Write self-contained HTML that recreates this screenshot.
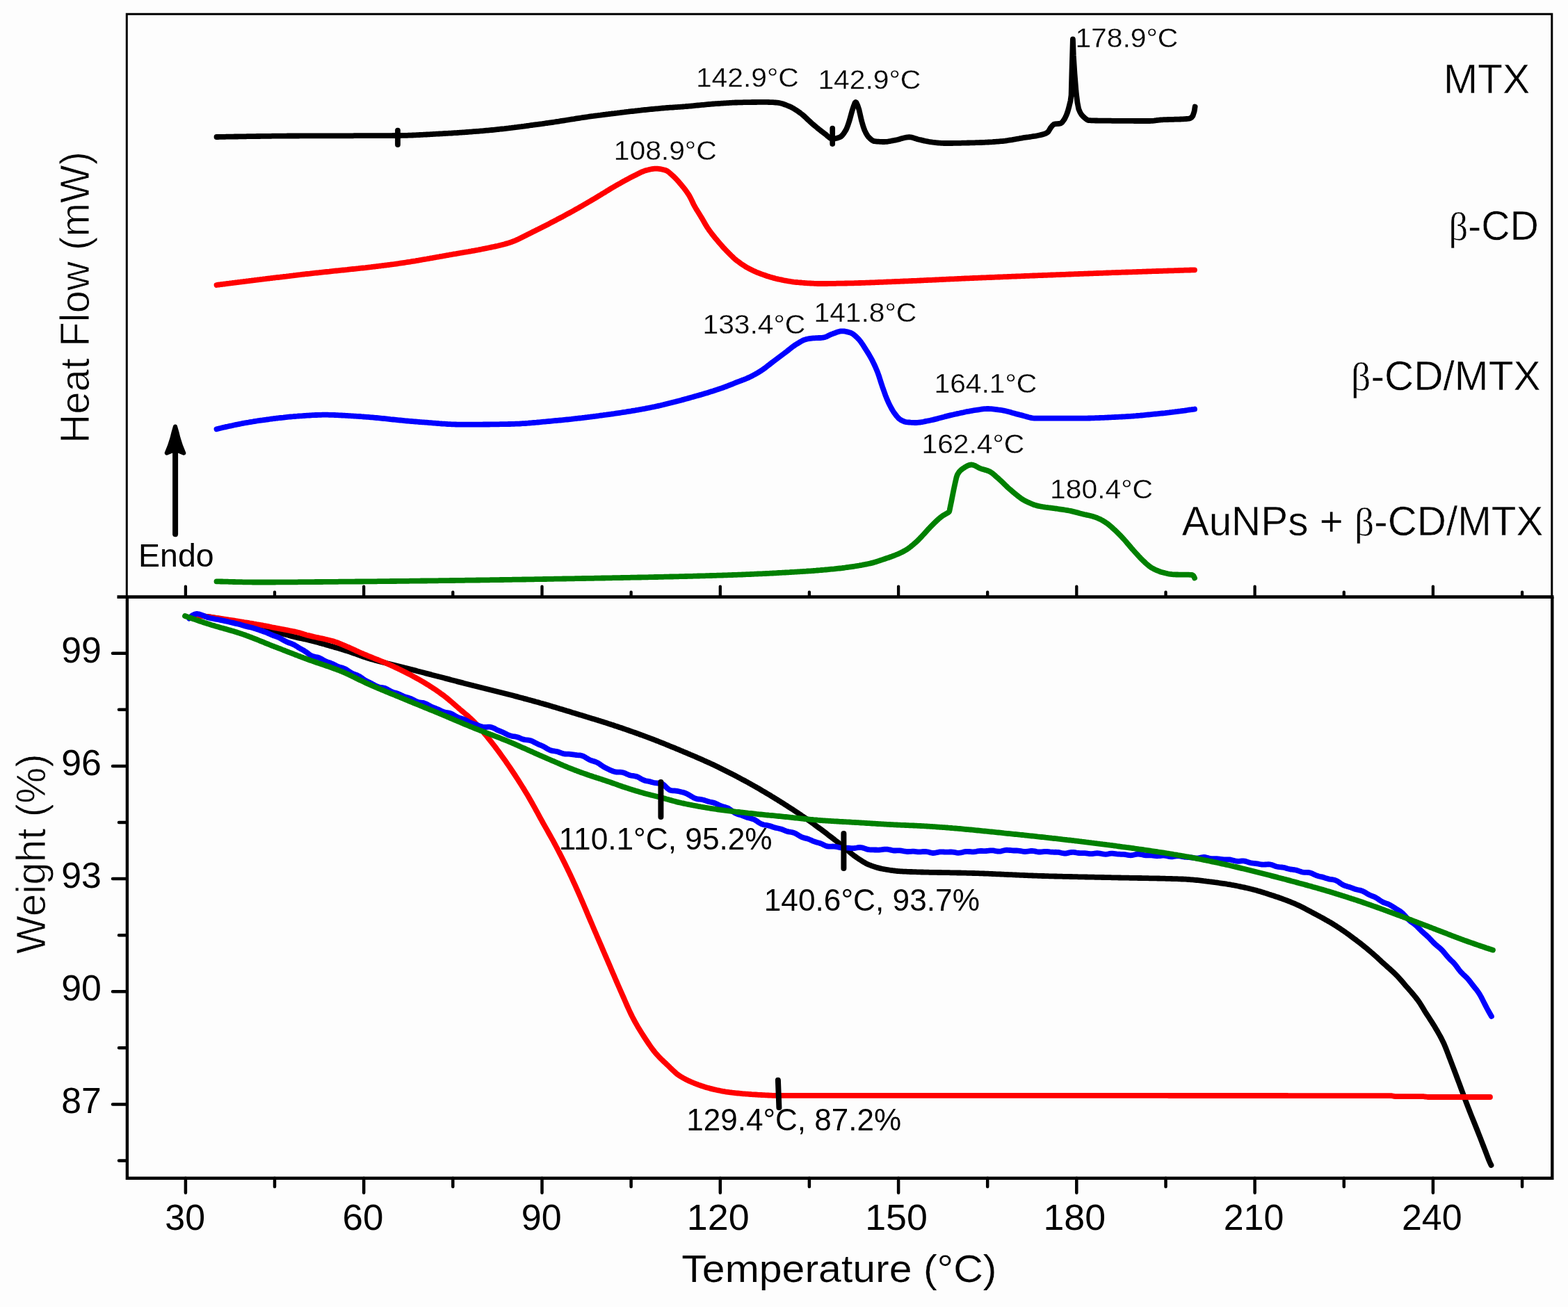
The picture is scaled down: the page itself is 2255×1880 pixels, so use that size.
<!DOCTYPE html>
<html lang="en">
<head>
<meta charset="utf-8">
<title>DSC and TGA thermograms</title>
<style>
html,body{margin:0;padding:0;background:#fdfdfd;}
body{width:2255px;height:1880px;overflow:hidden;font-family:"Liberation Sans",Arial,sans-serif;}
svg{display:block;}
</style>
</head>
<body>
<svg width="2255" height="1880" viewBox="0 0 2255 1880" font-family="&quot;Liberation Sans&quot;, Arial, sans-serif" fill="#000">
<rect width="2255" height="1880" fill="#fdfdfd"/>
<g id="dsc" fill="none" stroke-linecap="round" stroke-linejoin="round">
<path d="M311.5,197.0 L313.5,197.0 L315.5,196.9 L317.5,196.9 L319.5,196.9 L321.5,196.8 L323.5,196.8 L325.5,196.7 L327.5,196.7 L329.5,196.7 L331.5,196.6 L333.5,196.6 L335.5,196.6 L337.5,196.5 L339.5,196.5 L341.5,196.5 L343.5,196.4 L345.5,196.4 L347.5,196.4 L349.5,196.3 L351.5,196.3 L353.5,196.3 L355.5,196.2 L357.5,196.2 L359.5,196.2 L361.5,196.1 L363.5,196.1 L365.5,196.1 L367.5,196.1 L369.5,196.0 L371.5,196.0 L373.5,196.0 L375.5,195.9 L377.5,195.9 L379.5,195.9 L381.5,195.9 L383.5,195.8 L385.5,195.8 L387.5,195.8 L389.5,195.8 L391.5,195.7 L393.5,195.7 L395.5,195.7 L397.5,195.7 L399.5,195.7 L401.5,195.6 L403.5,195.6 L405.5,195.6 L407.5,195.6 L409.5,195.6 L411.5,195.6 L413.5,195.5 L415.5,195.5 L417.5,195.5 L419.5,195.5 L420.0,195.5 L421.5,195.5 L423.5,195.5 L425.5,195.5 L427.5,195.5 L429.5,195.5 L431.5,195.4 L433.5,195.4 L435.5,195.4 L437.5,195.4 L439.5,195.4 L441.5,195.4 L443.5,195.4 L445.5,195.4 L447.5,195.4 L449.5,195.4 L451.5,195.4 L453.5,195.4 L455.5,195.4 L457.5,195.4 L459.5,195.3 L461.5,195.3 L463.5,195.3 L465.5,195.3 L467.5,195.3 L469.5,195.3 L471.5,195.3 L473.5,195.3 L475.5,195.3 L477.5,195.3 L479.5,195.3 L481.5,195.3 L483.5,195.3 L485.5,195.3 L487.5,195.3 L489.5,195.3 L491.5,195.3 L493.5,195.3 L495.5,195.3 L497.5,195.3 L499.5,195.3 L501.5,195.3 L503.5,195.3 L505.5,195.3 L507.5,195.3 L509.5,195.2 L511.5,195.2 L513.5,195.2 L515.5,195.2 L517.5,195.2 L519.5,195.2 L521.5,195.2 L523.5,195.2 L525.5,195.2 L527.5,195.2 L529.5,195.2 L531.5,195.2 L533.5,195.2 L535.5,195.2 L537.5,195.2 L539.5,195.2 L541.5,195.2 L543.5,195.2 L545.5,195.1 L547.5,195.1 L549.5,195.1 L551.5,195.1 L553.5,195.1 L555.5,195.1 L557.5,195.1 L559.5,195.1 L561.5,195.1 L563.5,195.1 L565.5,195.0 L567.5,195.0 L569.5,195.0 L571.5,195.0 L572.0,195.0 L573.5,195.0 L575.5,195.0 L577.5,194.9 L579.5,194.9 L581.5,194.9 L583.5,194.8 L585.5,194.8 L587.5,194.7 L589.5,194.6 L591.5,194.6 L593.5,194.5 L595.5,194.4 L597.5,194.3 L599.5,194.2 L601.5,194.1 L603.5,194.0 L605.5,193.9 L607.5,193.8 L609.5,193.7 L611.5,193.6 L613.5,193.5 L615.5,193.4 L617.5,193.3 L619.5,193.2 L621.5,193.1 L623.5,192.9 L625.5,192.8 L627.5,192.7 L629.5,192.6 L631.5,192.5 L633.5,192.4 L635.5,192.3 L637.5,192.1 L639.5,192.0 L640.0,192.0 L641.5,191.9 L643.5,191.8 L645.5,191.7 L647.5,191.6 L649.5,191.5 L651.5,191.3 L653.5,191.2 L655.5,191.1 L657.5,191.0 L659.5,190.8 L661.5,190.7 L663.5,190.6 L665.5,190.4 L667.5,190.3 L669.5,190.1 L671.5,190.0 L673.5,189.9 L675.5,189.7 L677.5,189.6 L679.5,189.4 L681.5,189.2 L683.5,189.1 L685.5,188.9 L687.5,188.8 L689.5,188.6 L691.5,188.4 L693.5,188.3 L695.5,188.1 L697.5,187.9 L699.5,187.7 L700.0,187.7 L701.5,187.6 L703.5,187.4 L705.5,187.2 L707.5,187.0 L709.5,186.8 L711.5,186.6 L713.5,186.4 L715.5,186.2 L717.5,186.0 L719.5,185.7 L721.5,185.5 L723.5,185.3 L725.5,185.1 L727.5,184.8 L729.5,184.6 L731.5,184.4 L733.5,184.1 L735.5,183.9 L737.5,183.6 L739.5,183.4 L741.5,183.1 L743.5,182.9 L745.5,182.6 L747.5,182.3 L749.5,182.1 L751.5,181.8 L753.5,181.6 L755.5,181.3 L757.5,181.0 L759.5,180.8 L761.5,180.5 L763.5,180.2 L765.5,180.0 L767.5,179.7 L769.5,179.4 L771.5,179.1 L773.5,178.9 L775.5,178.6 L777.5,178.3 L779.5,178.1 L780.0,178.0 L781.5,177.8 L783.5,177.5 L785.5,177.2 L787.5,177.0 L789.5,176.7 L791.5,176.4 L793.5,176.1 L795.5,175.8 L797.5,175.5 L799.5,175.2 L801.5,174.9 L803.5,174.6 L805.5,174.2 L807.5,173.9 L809.5,173.6 L811.5,173.3 L813.5,173.0 L815.5,172.7 L817.5,172.3 L819.5,172.0 L821.5,171.7 L823.5,171.4 L825.5,171.1 L827.5,170.7 L829.5,170.4 L831.5,170.1 L833.5,169.8 L835.5,169.5 L837.5,169.2 L839.5,168.9 L841.5,168.6 L843.5,168.3 L845.5,168.0 L847.5,167.7 L849.5,167.4 L851.5,167.1 L853.5,166.9 L855.5,166.6 L857.5,166.3 L859.5,166.1 L860.0,166.0 L861.5,165.8 L863.5,165.6 L865.5,165.3 L867.5,165.0 L869.5,164.8 L871.5,164.5 L873.5,164.3 L875.5,164.0 L877.5,163.8 L879.5,163.5 L881.5,163.3 L883.5,163.1 L885.5,162.8 L887.5,162.6 L889.5,162.3 L891.5,162.1 L893.5,161.8 L895.5,161.6 L897.5,161.4 L899.5,161.1 L901.5,160.9 L903.5,160.7 L905.5,160.4 L907.5,160.2 L909.5,160.0 L911.5,159.8 L913.5,159.5 L915.5,159.3 L917.5,159.1 L919.5,158.9 L921.5,158.7 L923.5,158.4 L925.5,158.2 L927.5,158.0 L929.5,157.8 L931.5,157.6 L933.5,157.4 L935.5,157.2 L937.5,157.0 L939.5,156.8 L941.5,156.6 L943.5,156.4 L945.5,156.3 L947.5,156.1 L949.5,155.9 L951.5,155.7 L953.5,155.5 L955.5,155.4 L957.5,155.2 L959.5,155.0 L960.0,155.0 L961.5,154.9 L963.5,154.7 L965.5,154.6 L967.5,154.5 L969.5,154.3 L971.5,154.2 L973.5,154.1 L975.5,153.9 L977.5,153.8 L979.5,153.6 L980.0,153.6 L981.5,153.5 L983.5,153.3 L985.5,153.2 L987.5,153.0 L989.5,152.8 L991.5,152.6 L993.5,152.5 L995.5,152.3 L997.5,152.1 L999.5,151.9 L1001.5,151.7 L1003.5,151.5 L1005.5,151.3 L1007.5,151.1 L1009.5,150.9 L1011.5,150.8 L1013.5,150.6 L1015.5,150.4 L1017.5,150.2 L1019.5,150.0 L1021.5,149.9 L1023.5,149.7 L1025.5,149.5 L1027.5,149.4 L1029.5,149.2 L1031.5,149.1 L1033.0,149.0 L1033.5,149.0 L1035.5,148.8 L1037.5,148.7 L1039.5,148.6 L1041.5,148.4 L1043.5,148.3 L1045.5,148.2 L1047.5,148.1 L1049.5,147.9 L1051.5,147.8 L1053.5,147.7 L1055.5,147.6 L1057.5,147.5 L1059.5,147.5 L1061.5,147.4 L1063.5,147.3 L1065.0,147.3 L1065.5,147.3 L1067.5,147.3 L1069.5,147.2 L1071.5,147.2 L1073.5,147.1 L1075.5,147.1 L1077.5,147.1 L1079.5,147.1 L1081.5,147.0 L1083.5,147.0 L1085.5,147.0 L1087.5,147.0 L1089.5,146.9 L1091.5,146.9 L1093.5,146.9 L1095.5,146.9 L1097.5,146.9 L1099.5,146.9 L1100.0,146.9 L1101.5,146.9 L1103.5,146.9 L1105.5,147.0 L1107.5,147.1 L1109.5,147.1 L1111.5,147.2 L1113.5,147.4 L1115.5,147.5 L1117.1,147.6 L1117.5,147.6 L1119.5,147.9 L1121.5,148.3 L1123.5,148.8 L1125.5,149.3 L1127.5,150.0 L1129.5,150.7 L1131.5,151.5 L1133.5,152.3 L1134.3,152.6 L1135.5,153.1 L1137.5,154.0 L1139.5,155.1 L1141.5,156.2 L1143.5,157.5 L1145.5,158.8 L1147.5,160.1 L1149.5,161.5 L1151.4,162.9 L1151.5,163.0 L1153.5,164.5 L1155.5,166.2 L1157.5,168.0 L1159.5,169.9 L1161.5,171.8 L1163.5,173.7 L1165.5,175.5 L1167.5,177.4 L1168.6,178.3 L1169.5,179.1 L1171.5,180.7 L1173.5,182.4 L1175.5,184.1 L1177.5,185.7 L1179.5,187.3 L1181.5,188.9 L1183.5,190.4 L1185.5,191.9 L1185.7,192.0 L1187.5,193.4 L1189.5,195.2 L1191.5,196.9 L1193.5,198.4 L1195.5,199.4 L1197.2,199.7 L1197.5,199.7 L1199.5,199.6 L1201.5,199.2 L1203.5,198.8 L1205.5,198.1 L1207.5,197.4 L1208.0,197.2 L1209.5,196.3 L1211.5,194.4 L1213.5,191.8 L1215.5,188.7 L1216.6,186.9 L1217.5,185.1 L1219.5,179.9 L1221.5,173.7 L1221.7,173.1 L1223.5,166.6 L1225.5,159.2 L1226.0,157.7 L1227.5,153.1 L1229.5,148.0 L1230.6,147.0 L1231.5,147.6 L1233.5,151.9 L1235.4,157.7 L1235.5,158.0 L1237.5,166.8 L1238.9,173.1 L1239.5,175.3 L1241.5,182.2 L1243.2,186.9 L1243.5,187.6 L1245.5,191.7 L1247.5,195.1 L1249.2,197.2 L1249.5,197.5 L1251.5,199.5 L1253.5,201.2 L1255.5,202.5 L1257.5,203.2 L1257.7,203.2 L1259.5,203.4 L1261.5,203.6 L1263.5,203.7 L1265.5,203.8 L1267.5,203.9 L1269.5,204.0 L1271.4,204.0 L1271.5,204.0 L1273.5,203.9 L1275.5,203.8 L1277.5,203.5 L1279.5,203.2 L1281.5,202.8 L1283.5,202.4 L1285.5,202.0 L1287.5,201.6 L1288.6,201.4 L1289.5,201.2 L1291.5,200.8 L1293.5,200.2 L1295.5,199.6 L1297.5,199.0 L1299.5,198.5 L1301.5,198.0 L1303.5,197.6 L1305.5,197.3 L1307.4,197.2 L1307.5,197.2 L1309.5,197.4 L1311.5,197.7 L1313.5,198.3 L1315.5,198.9 L1317.5,199.5 L1319.5,200.2 L1321.2,200.6 L1321.5,200.7 L1323.5,201.1 L1325.5,201.6 L1327.5,202.1 L1329.5,202.6 L1331.5,203.0 L1333.5,203.4 L1335.5,203.8 L1337.5,204.2 L1339.5,204.4 L1340.0,204.5 L1341.5,204.7 L1343.5,204.9 L1345.5,205.1 L1347.5,205.3 L1349.5,205.5 L1351.5,205.6 L1353.5,205.8 L1355.5,205.9 L1357.5,206.0 L1359.5,206.0 L1360.0,206.0 L1361.5,206.0 L1363.5,206.0 L1365.5,206.0 L1367.5,206.0 L1369.5,206.0 L1371.5,205.9 L1373.5,205.9 L1375.5,205.9 L1377.5,205.8 L1379.5,205.8 L1381.5,205.8 L1383.5,205.7 L1385.5,205.7 L1387.5,205.6 L1389.5,205.6 L1391.5,205.5 L1393.5,205.5 L1395.5,205.4 L1397.5,205.4 L1399.5,205.3 L1401.5,205.3 L1403.5,205.2 L1405.5,205.1 L1407.5,205.1 L1409.5,205.0 L1410.0,205.0 L1411.5,205.0 L1413.5,204.9 L1415.5,204.8 L1417.5,204.7 L1419.5,204.6 L1421.5,204.5 L1423.5,204.4 L1425.5,204.3 L1427.5,204.2 L1429.5,204.0 L1431.5,203.9 L1433.5,203.7 L1435.5,203.6 L1437.5,203.4 L1439.5,203.2 L1440.0,203.2 L1441.5,203.1 L1443.5,202.8 L1445.5,202.6 L1447.5,202.3 L1449.5,202.0 L1451.5,201.7 L1453.5,201.4 L1455.5,201.1 L1457.5,200.7 L1459.5,200.4 L1461.5,200.0 L1463.5,199.6 L1465.5,199.3 L1467.5,198.9 L1469.5,198.6 L1470.5,198.4 L1471.5,198.2 L1473.5,197.9 L1475.5,197.6 L1477.5,197.3 L1479.5,197.1 L1481.5,196.8 L1483.5,196.5 L1485.5,196.2 L1487.5,195.9 L1489.5,195.6 L1491.5,195.2 L1493.5,194.8 L1495.5,194.4 L1497.5,193.9 L1499.5,193.4 L1501.0,193.0 L1501.5,192.8 L1503.5,192.1 L1505.5,191.0 L1507.0,190.0 L1507.5,189.5 L1509.5,186.2 L1510.9,183.9 L1511.5,183.1 L1513.5,180.6 L1515.5,178.9 L1516.2,178.6 L1517.5,178.4 L1519.5,178.1 L1521.5,178.0 L1523.5,177.8 L1525.3,177.5 L1525.5,177.4 L1527.5,176.0 L1529.5,173.3 L1531.0,171.0 L1531.5,170.2 L1533.5,165.9 L1535.0,162.0 L1535.5,160.5 L1537.5,153.4 L1538.3,150.0 L1539.5,145.1 L1540.6,136.7 L1541.4,106.2 L1541.5,102.7 L1542.2,80.0 L1542.9,56.3 L1543.5,71.2 L1543.8,80.0 L1545.5,106.2 L1547.5,131.0 L1548.1,136.7 L1549.5,147.7 L1551.2,156.5 L1551.5,157.4 L1553.5,162.0 L1555.5,165.1 L1557.3,167.1 L1557.5,167.3 L1559.5,169.2 L1561.5,170.9 L1563.5,172.3 L1565.5,173.1 L1566.5,173.2 L1567.5,173.2 L1569.5,173.3 L1571.5,173.4 L1573.5,173.4 L1575.5,173.5 L1577.5,173.5 L1579.5,173.6 L1581.5,173.6 L1583.5,173.6 L1585.5,173.6 L1587.5,173.7 L1589.5,173.7 L1591.5,173.7 L1592.4,173.7 L1593.5,173.7 L1595.5,173.7 L1597.5,173.7 L1599.5,173.8 L1601.5,173.8 L1603.5,173.8 L1605.5,173.8 L1607.5,173.8 L1609.5,173.8 L1611.5,173.8 L1613.5,173.9 L1615.5,173.9 L1617.5,173.9 L1619.5,173.9 L1621.5,173.9 L1623.5,173.9 L1625.5,173.9 L1627.5,173.9 L1629.5,173.9 L1631.5,174.0 L1633.5,174.0 L1635.5,174.0 L1637.5,174.0 L1639.5,174.0 L1641.5,174.0 L1643.5,174.0 L1645.5,174.0 L1647.5,174.0 L1649.5,174.0 L1651.5,174.0 L1653.3,174.0 L1653.5,174.0 L1655.5,173.9 L1657.5,173.8 L1659.5,173.6 L1661.5,173.3 L1663.5,173.0 L1665.5,172.8 L1667.5,172.6 L1668.6,172.5 L1669.5,172.4 L1671.5,172.3 L1673.5,172.2 L1675.5,172.1 L1677.5,172.1 L1679.5,172.0 L1681.5,171.9 L1683.5,171.9 L1685.5,171.8 L1687.5,171.8 L1689.5,171.7 L1691.5,171.7 L1693.5,171.6 L1695.5,171.6 L1697.5,171.5 L1699.5,171.4 L1701.5,171.3 L1703.5,171.1 L1705.5,171.0 L1707.5,170.8 L1709.5,170.6 L1711.0,170.4 L1711.5,170.3 L1713.5,169.0 L1715.5,166.5 L1717.5,160.4 L1717.6,160.0 L1718.6,153.5" stroke="#000" stroke-width="7.8"/>
<path d="M311.5,410.0 L313.5,409.7 L315.5,409.5 L317.5,409.2 L319.5,409.0 L321.5,408.7 L323.5,408.5 L325.5,408.2 L327.5,407.9 L329.5,407.7 L331.5,407.4 L333.5,407.2 L335.5,406.9 L337.5,406.7 L339.5,406.4 L341.5,406.2 L343.5,405.9 L345.5,405.7 L347.5,405.4 L349.5,405.2 L351.5,404.9 L353.5,404.7 L355.5,404.4 L357.5,404.2 L359.5,403.9 L361.5,403.7 L363.5,403.4 L365.5,403.2 L367.5,402.9 L369.5,402.7 L371.5,402.4 L373.5,402.2 L375.5,401.9 L377.5,401.7 L379.5,401.4 L381.5,401.2 L383.5,400.9 L385.5,400.7 L387.5,400.5 L389.5,400.2 L391.5,400.0 L393.5,399.7 L395.5,399.5 L397.5,399.2 L399.5,399.0 L401.5,398.8 L403.5,398.5 L405.5,398.3 L407.5,398.0 L409.5,397.8 L411.5,397.6 L413.5,397.3 L415.5,397.1 L417.5,396.8 L419.5,396.6 L421.5,396.4 L423.5,396.1 L425.5,395.9 L427.5,395.6 L429.5,395.4 L431.5,395.2 L433.0,395.0 L433.5,394.9 L435.5,394.7 L437.5,394.5 L439.5,394.2 L441.5,394.0 L443.5,393.8 L445.5,393.6 L447.5,393.3 L449.5,393.1 L451.5,392.9 L453.5,392.7 L455.5,392.5 L457.5,392.3 L459.5,392.0 L461.5,391.8 L463.5,391.6 L465.5,391.4 L467.5,391.2 L469.5,391.0 L471.5,390.8 L473.5,390.6 L475.5,390.3 L477.5,390.1 L479.5,389.9 L481.5,389.7 L483.5,389.5 L485.5,389.3 L487.5,389.1 L489.5,388.9 L491.5,388.7 L493.5,388.5 L495.5,388.3 L497.5,388.1 L499.5,387.9 L501.5,387.6 L503.5,387.4 L505.5,387.2 L507.5,387.0 L509.5,386.8 L511.5,386.6 L513.5,386.4 L515.5,386.2 L517.5,385.9 L519.5,385.7 L521.5,385.5 L523.5,385.3 L525.5,385.1 L527.5,384.8 L529.5,384.6 L531.5,384.4 L533.5,384.2 L535.5,383.9 L537.5,383.7 L539.5,383.5 L541.5,383.2 L543.5,383.0 L545.5,382.7 L547.5,382.5 L549.5,382.2 L551.5,382.0 L553.5,381.7 L555.5,381.5 L557.5,381.2 L559.5,381.0 L561.5,380.7 L563.5,380.4 L565.5,380.2 L566.7,380.0 L567.5,379.9 L569.5,379.6 L571.5,379.3 L573.5,379.0 L575.5,378.7 L577.5,378.4 L579.5,378.1 L581.5,377.8 L583.5,377.5 L585.5,377.2 L587.5,376.9 L589.5,376.6 L591.5,376.2 L593.5,375.9 L595.5,375.6 L597.5,375.3 L599.5,374.9 L601.5,374.6 L603.5,374.2 L605.5,373.9 L607.5,373.5 L609.5,373.2 L611.5,372.8 L613.5,372.5 L615.5,372.1 L617.5,371.8 L619.5,371.4 L621.5,371.1 L623.5,370.7 L625.5,370.4 L627.5,370.0 L629.5,369.6 L631.5,369.3 L633.5,368.9 L635.5,368.6 L637.5,368.2 L639.5,367.9 L641.5,367.5 L643.5,367.1 L645.5,366.8 L647.5,366.4 L649.5,366.1 L650.0,366.0 L651.5,365.7 L653.5,365.4 L655.5,365.1 L657.5,364.7 L659.5,364.4 L661.5,364.0 L663.5,363.7 L665.5,363.3 L667.5,363.0 L669.5,362.7 L671.5,362.3 L673.5,362.0 L675.5,361.6 L677.5,361.3 L679.5,360.9 L681.5,360.6 L683.5,360.2 L685.5,359.8 L687.5,359.5 L689.5,359.1 L691.5,358.7 L693.5,358.3 L695.5,357.9 L697.5,357.5 L699.5,357.1 L700.0,357.0 L701.5,356.7 L703.5,356.3 L705.5,355.9 L707.5,355.4 L709.5,355.0 L711.5,354.6 L713.5,354.1 L715.5,353.7 L717.5,353.2 L719.5,352.7 L721.5,352.2 L723.5,351.7 L725.5,351.2 L727.5,350.6 L729.5,350.1 L731.5,349.5 L733.0,349.0 L733.5,348.8 L735.5,348.2 L737.5,347.4 L739.5,346.6 L741.5,345.8 L743.5,344.9 L745.5,344.0 L747.5,343.0 L749.5,342.0 L751.5,341.0 L753.5,340.0 L755.5,339.0 L757.5,338.0 L759.5,336.9 L761.5,335.9 L763.5,334.9 L765.5,333.9 L766.7,333.3 L767.5,332.9 L769.5,331.9 L771.5,330.9 L773.5,330.0 L775.5,329.0 L777.5,328.0 L779.5,327.0 L781.5,325.9 L783.5,324.9 L785.5,323.9 L787.5,322.9 L789.5,321.9 L791.5,320.8 L793.5,319.8 L795.5,318.8 L797.5,317.7 L799.5,316.7 L801.5,315.6 L803.5,314.6 L805.5,313.5 L807.5,312.4 L809.5,311.4 L811.5,310.3 L813.5,309.2 L815.5,308.1 L817.5,307.1 L819.5,306.0 L820.0,305.7 L821.5,304.9 L823.5,303.8 L825.5,302.7 L827.5,301.5 L829.5,300.4 L831.5,299.3 L833.5,298.1 L835.5,297.0 L837.5,295.8 L839.5,294.7 L841.5,293.5 L843.5,292.3 L845.5,291.2 L847.5,290.0 L849.5,288.8 L851.5,287.6 L853.5,286.5 L854.3,286.0 L855.5,285.3 L857.5,284.1 L859.5,282.9 L861.5,281.7 L863.5,280.5 L865.5,279.2 L867.5,278.0 L869.5,276.8 L871.5,275.6 L873.5,274.3 L875.5,273.1 L877.5,271.9 L879.5,270.7 L881.5,269.5 L883.5,268.3 L885.5,267.2 L887.5,266.0 L888.6,265.4 L889.5,264.9 L891.5,263.8 L893.5,262.7 L895.5,261.5 L897.5,260.4 L899.5,259.3 L901.5,258.3 L903.5,257.2 L905.5,256.1 L907.5,255.1 L909.5,254.1 L911.5,253.1 L913.5,252.1 L914.3,251.7 L915.5,251.1 L917.5,250.1 L919.5,249.1 L921.5,248.1 L923.5,247.1 L925.5,246.3 L927.5,245.5 L929.5,244.9 L929.7,244.9 L931.5,244.5 L933.5,244.0 L935.5,243.5 L937.5,243.2 L939.5,242.9 L941.5,242.7 L943.4,242.6 L943.5,242.6 L945.5,242.7 L947.5,242.9 L949.5,243.1 L951.5,243.5 L953.5,244.0 L955.5,244.5 L957.1,244.9 L957.5,245.0 L959.5,246.0 L961.5,247.4 L963.5,249.1 L965.5,250.9 L967.4,252.6 L967.5,252.7 L969.5,254.5 L971.5,256.5 L973.5,258.6 L975.5,260.8 L977.5,263.2 L979.4,265.4 L979.5,265.5 L981.5,267.9 L983.5,270.4 L985.5,273.0 L987.5,275.8 L989.5,278.7 L991.4,281.7 L991.5,281.9 L993.5,285.6 L995.5,289.8 L997.5,294.0 L998.3,295.5 L999.5,297.6 L1001.5,301.1 L1003.5,304.3 L1005.5,307.6 L1007.5,310.8 L1008.6,312.6 L1009.5,314.1 L1011.5,317.5 L1013.5,321.0 L1015.5,324.4 L1017.5,327.6 L1018.9,329.7 L1019.5,330.6 L1021.5,333.3 L1023.5,336.0 L1025.5,338.5 L1027.5,341.0 L1029.5,343.4 L1030.9,345.1 L1031.5,345.8 L1033.5,348.2 L1035.5,350.5 L1037.5,352.8 L1039.5,355.1 L1041.5,357.3 L1043.5,359.4 L1045.5,361.5 L1046.3,362.3 L1047.5,363.5 L1049.5,365.5 L1051.5,367.5 L1053.5,369.4 L1055.5,371.3 L1057.5,373.1 L1059.5,374.7 L1060.0,375.1 L1061.5,376.2 L1063.5,377.7 L1065.5,379.2 L1067.5,380.5 L1069.5,381.8 L1071.5,383.1 L1073.5,384.3 L1075.5,385.4 L1077.1,386.3 L1077.5,386.5 L1079.5,387.5 L1081.5,388.5 L1083.5,389.5 L1085.5,390.4 L1087.5,391.3 L1089.5,392.1 L1091.5,392.9 L1093.5,393.7 L1094.3,394.0 L1095.5,394.4 L1097.5,395.1 L1099.5,395.8 L1101.5,396.5 L1103.5,397.2 L1105.5,397.8 L1107.5,398.4 L1109.5,399.0 L1111.5,399.6 L1113.5,400.1 L1115.5,400.7 L1117.5,401.1 L1119.5,401.6 L1120.0,401.7 L1121.5,402.0 L1123.5,402.4 L1125.5,402.9 L1127.5,403.3 L1129.5,403.6 L1131.5,404.0 L1133.5,404.4 L1135.5,404.7 L1137.5,405.0 L1139.5,405.3 L1141.5,405.6 L1143.5,405.8 L1145.5,406.0 L1145.7,406.0 L1147.5,406.2 L1149.5,406.3 L1151.5,406.5 L1153.5,406.7 L1155.5,406.8 L1157.5,407.0 L1159.5,407.1 L1161.5,407.3 L1163.5,407.4 L1165.5,407.5 L1167.5,407.7 L1169.5,407.7 L1171.5,407.8 L1173.5,407.9 L1175.5,408.0 L1177.5,408.0 L1179.5,408.0 L1180.0,408.0 L1181.5,408.0 L1183.5,408.0 L1185.5,408.0 L1187.5,408.0 L1189.5,408.0 L1191.5,407.9 L1193.5,407.9 L1195.5,407.9 L1197.5,407.8 L1199.5,407.8 L1201.5,407.8 L1203.5,407.7 L1205.5,407.7 L1207.5,407.7 L1209.5,407.6 L1211.5,407.6 L1213.5,407.6 L1215.5,407.5 L1216.7,407.5 L1217.5,407.5 L1219.5,407.4 L1221.5,407.4 L1223.5,407.4 L1225.5,407.3 L1227.5,407.3 L1229.5,407.2 L1231.5,407.1 L1233.5,407.1 L1235.5,407.0 L1237.5,407.0 L1239.5,406.9 L1241.5,406.8 L1243.5,406.8 L1245.5,406.7 L1247.5,406.6 L1249.5,406.6 L1251.5,406.5 L1253.5,406.4 L1255.5,406.3 L1257.5,406.3 L1259.5,406.2 L1261.5,406.1 L1263.5,406.0 L1265.5,405.9 L1267.5,405.9 L1269.5,405.8 L1271.5,405.7 L1273.5,405.6 L1275.5,405.5 L1277.5,405.4 L1279.5,405.3 L1281.5,405.3 L1283.5,405.2 L1285.5,405.1 L1287.5,405.0 L1289.5,404.9 L1291.5,404.8 L1293.5,404.8 L1295.5,404.7 L1297.5,404.6 L1299.5,404.5 L1300.0,404.5 L1301.5,404.4 L1303.5,404.4 L1305.5,404.3 L1307.5,404.2 L1309.5,404.1 L1311.5,404.0 L1313.5,403.9 L1315.5,403.9 L1317.5,403.8 L1319.5,403.7 L1321.5,403.6 L1323.5,403.5 L1325.5,403.4 L1327.5,403.3 L1329.5,403.2 L1331.5,403.1 L1333.5,403.0 L1335.5,402.9 L1337.5,402.9 L1339.5,402.8 L1341.5,402.7 L1343.5,402.6 L1345.5,402.5 L1347.5,402.4 L1349.5,402.3 L1351.5,402.2 L1353.5,402.1 L1355.5,402.0 L1357.5,401.9 L1359.5,401.8 L1361.5,401.7 L1363.5,401.6 L1365.5,401.5 L1367.5,401.4 L1369.5,401.3 L1371.5,401.3 L1373.5,401.2 L1375.5,401.1 L1377.5,401.0 L1379.5,400.9 L1381.5,400.8 L1383.5,400.7 L1385.5,400.6 L1387.5,400.5 L1389.5,400.4 L1391.5,400.4 L1393.5,400.3 L1395.5,400.2 L1397.5,400.1 L1399.5,400.0 L1400.0,400.0 L1401.5,399.9 L1403.5,399.9 L1405.5,399.8 L1407.5,399.7 L1409.5,399.6 L1411.5,399.5 L1413.5,399.4 L1415.5,399.4 L1417.5,399.3 L1419.5,399.2 L1421.5,399.1 L1423.5,399.0 L1425.5,399.0 L1427.5,398.9 L1429.5,398.8 L1431.5,398.7 L1433.5,398.6 L1435.5,398.5 L1437.5,398.5 L1439.5,398.4 L1441.5,398.3 L1443.5,398.2 L1445.5,398.1 L1447.5,398.1 L1449.5,398.0 L1451.5,397.9 L1453.5,397.8 L1455.5,397.7 L1457.5,397.7 L1459.5,397.6 L1461.5,397.5 L1463.5,397.4 L1465.5,397.3 L1467.5,397.3 L1469.5,397.2 L1471.5,397.1 L1473.5,397.0 L1475.5,396.9 L1477.5,396.9 L1479.5,396.8 L1481.5,396.7 L1483.5,396.6 L1485.5,396.5 L1487.5,396.5 L1489.5,396.4 L1491.5,396.3 L1493.5,396.2 L1495.5,396.2 L1497.5,396.1 L1499.5,396.0 L1501.5,395.9 L1503.5,395.8 L1505.5,395.8 L1507.5,395.7 L1509.5,395.6 L1511.5,395.5 L1513.5,395.5 L1515.5,395.4 L1517.5,395.3 L1519.5,395.2 L1521.5,395.1 L1523.5,395.1 L1525.5,395.0 L1527.5,394.9 L1529.5,394.8 L1531.5,394.8 L1533.5,394.7 L1535.5,394.6 L1537.5,394.5 L1539.5,394.5 L1541.5,394.4 L1543.5,394.3 L1545.5,394.2 L1547.5,394.2 L1549.5,394.1 L1551.5,394.0 L1553.5,393.9 L1555.5,393.9 L1557.5,393.8 L1559.5,393.7 L1561.5,393.6 L1563.5,393.6 L1565.5,393.5 L1567.5,393.4 L1569.5,393.3 L1571.5,393.3 L1573.5,393.2 L1575.5,393.1 L1577.5,393.0 L1579.5,393.0 L1581.5,392.9 L1583.5,392.8 L1585.5,392.8 L1587.5,392.7 L1589.5,392.6 L1591.5,392.5 L1593.5,392.5 L1595.5,392.4 L1597.5,392.3 L1599.5,392.2 L1601.5,392.2 L1603.5,392.1 L1605.5,392.0 L1607.5,392.0 L1609.5,391.9 L1611.5,391.8 L1613.5,391.7 L1615.5,391.7 L1617.5,391.6 L1619.5,391.5 L1621.5,391.5 L1623.5,391.4 L1625.5,391.3 L1627.5,391.3 L1629.5,391.2 L1631.5,391.1 L1633.5,391.1 L1635.5,391.0 L1637.5,390.9 L1639.5,390.8 L1641.5,390.8 L1643.5,390.7 L1645.5,390.6 L1647.5,390.6 L1649.5,390.5 L1651.5,390.4 L1653.5,390.4 L1655.5,390.3 L1657.5,390.2 L1659.5,390.2 L1661.5,390.1 L1663.5,390.0 L1665.5,390.0 L1667.5,389.9 L1669.5,389.8 L1671.5,389.8 L1673.5,389.7 L1675.5,389.6 L1677.5,389.6 L1679.5,389.5 L1681.5,389.4 L1683.5,389.4 L1685.5,389.3 L1687.5,389.3 L1689.5,389.2 L1691.5,389.1 L1693.5,389.1 L1695.5,389.0 L1697.5,388.9 L1699.5,388.9 L1701.5,388.8 L1703.5,388.7 L1705.5,388.7 L1707.5,388.6 L1709.5,388.6 L1711.5,388.5 L1713.5,388.4 L1715.5,388.4 L1717.5,388.3 L1718.0,388.3" stroke="#f00" stroke-width="7.8"/>
<path d="M311.5,617.2 L313.5,616.7 L315.5,616.2 L317.5,615.8 L319.5,615.3 L321.5,614.8 L323.5,614.4 L325.5,613.9 L327.5,613.5 L329.5,613.0 L331.5,612.6 L333.5,612.2 L335.5,611.7 L337.5,611.3 L339.5,610.9 L341.5,610.5 L343.5,610.1 L345.5,609.7 L347.5,609.3 L349.5,608.9 L351.5,608.5 L353.5,608.2 L355.5,607.8 L357.5,607.5 L359.5,607.1 L361.5,606.8 L363.5,606.5 L365.5,606.1 L367.5,605.8 L369.5,605.5 L371.5,605.2 L373.0,605.0 L373.5,604.9 L375.5,604.6 L377.5,604.4 L379.5,604.1 L381.5,603.8 L383.5,603.5 L385.5,603.3 L387.5,603.0 L389.5,602.7 L391.5,602.5 L393.5,602.2 L395.5,602.0 L397.5,601.7 L399.5,601.5 L401.5,601.2 L403.5,601.0 L405.5,600.8 L407.5,600.6 L409.5,600.3 L411.5,600.1 L413.5,599.9 L415.5,599.7 L417.5,599.5 L419.5,599.3 L421.5,599.2 L423.5,599.0 L425.5,598.8 L427.5,598.7 L429.5,598.5 L431.5,598.4 L433.0,598.3 L433.5,598.3 L435.5,598.1 L437.5,598.0 L439.5,597.9 L441.5,597.7 L443.5,597.6 L445.5,597.5 L447.5,597.4 L449.5,597.2 L451.5,597.1 L453.5,597.0 L455.5,597.0 L457.5,596.9 L459.5,596.8 L461.5,596.8 L463.5,596.7 L465.5,596.7 L466.7,596.7 L467.5,596.7 L469.5,596.7 L471.5,596.7 L473.5,596.8 L475.5,596.8 L477.5,596.9 L479.5,596.9 L481.5,597.0 L483.5,597.1 L485.5,597.2 L487.5,597.3 L489.5,597.4 L491.5,597.5 L493.5,597.6 L495.5,597.7 L497.5,597.8 L499.5,597.9 L501.5,598.1 L503.5,598.2 L505.5,598.3 L507.5,598.4 L509.5,598.6 L511.5,598.7 L513.5,598.8 L515.5,598.9 L516.7,599.0 L517.5,599.0 L519.5,599.2 L521.5,599.3 L523.5,599.5 L525.5,599.6 L527.5,599.8 L529.5,599.9 L531.5,600.1 L533.5,600.3 L535.5,600.4 L537.5,600.6 L539.5,600.8 L541.5,601.0 L543.5,601.2 L545.5,601.4 L547.5,601.6 L549.5,601.8 L551.5,602.0 L553.5,602.2 L555.5,602.4 L557.5,602.6 L559.5,602.8 L561.5,603.1 L563.5,603.3 L565.5,603.5 L567.5,603.7 L569.5,603.9 L571.5,604.1 L573.5,604.3 L575.5,604.5 L577.5,604.7 L579.5,604.9 L581.5,605.1 L583.5,605.3 L585.5,605.5 L587.5,605.7 L589.5,605.9 L591.5,606.0 L593.5,606.2 L595.5,606.4 L597.5,606.5 L599.5,606.7 L600.0,606.7 L601.5,606.8 L603.5,607.0 L605.5,607.1 L607.5,607.3 L609.5,607.4 L611.5,607.6 L613.5,607.7 L615.5,607.9 L617.5,608.1 L619.5,608.2 L621.5,608.4 L623.5,608.6 L625.5,608.7 L627.5,608.9 L629.5,609.0 L631.5,609.2 L633.5,609.3 L635.5,609.5 L637.5,609.6 L639.5,609.7 L641.5,609.8 L643.5,610.0 L645.5,610.1 L647.5,610.2 L649.5,610.3 L651.5,610.4 L653.5,610.4 L655.5,610.5 L657.5,610.6 L659.5,610.6 L661.5,610.7 L663.5,610.7 L665.5,610.7 L666.7,610.7 L667.5,610.7 L669.5,610.7 L671.5,610.7 L673.5,610.7 L675.5,610.7 L677.5,610.7 L679.5,610.7 L681.5,610.7 L683.5,610.6 L685.5,610.6 L687.5,610.6 L689.5,610.6 L691.5,610.6 L693.5,610.6 L695.5,610.5 L697.5,610.5 L699.5,610.5 L701.5,610.5 L703.5,610.5 L705.5,610.4 L707.5,610.4 L709.5,610.4 L711.5,610.4 L713.5,610.3 L715.5,610.3 L717.5,610.3 L719.5,610.2 L721.5,610.2 L723.5,610.2 L725.5,610.1 L727.5,610.1 L729.5,610.1 L731.5,610.0 L733.0,610.0 L733.5,610.0 L735.5,609.9 L737.5,609.9 L739.5,609.8 L741.5,609.7 L743.5,609.7 L745.5,609.6 L747.5,609.5 L749.5,609.3 L751.5,609.2 L753.5,609.1 L755.5,609.0 L757.5,608.8 L759.5,608.7 L761.5,608.5 L763.5,608.4 L765.5,608.2 L767.5,608.0 L769.5,607.8 L771.5,607.7 L773.5,607.5 L775.5,607.3 L777.5,607.1 L779.5,606.9 L781.5,606.7 L783.5,606.6 L785.5,606.4 L787.5,606.2 L789.5,606.0 L791.5,605.8 L793.5,605.6 L795.5,605.4 L797.5,605.2 L799.5,605.0 L800.0,605.0 L801.5,604.9 L803.5,604.7 L805.5,604.5 L807.5,604.3 L809.5,604.1 L811.5,603.9 L813.5,603.7 L815.5,603.5 L817.5,603.3 L819.5,603.1 L821.5,602.9 L823.5,602.6 L825.5,602.4 L827.5,602.2 L829.5,602.0 L831.5,601.7 L833.5,601.5 L835.5,601.3 L837.5,601.0 L839.5,600.8 L841.5,600.5 L843.5,600.3 L845.5,600.0 L847.5,599.8 L849.5,599.5 L851.5,599.3 L853.5,599.0 L855.5,598.8 L857.5,598.5 L859.5,598.3 L861.5,598.0 L863.5,597.7 L865.5,597.5 L866.7,597.3 L867.5,597.2 L869.5,596.9 L871.5,596.7 L873.5,596.4 L875.5,596.1 L877.5,595.8 L879.5,595.5 L881.5,595.3 L883.5,595.0 L885.5,594.7 L887.5,594.4 L889.5,594.1 L891.5,593.8 L893.5,593.5 L895.5,593.2 L897.5,592.9 L899.5,592.6 L901.5,592.2 L903.5,591.9 L905.5,591.6 L907.5,591.3 L909.5,590.9 L911.5,590.6 L913.5,590.3 L915.5,589.9 L917.5,589.6 L919.5,589.2 L921.5,588.9 L923.5,588.5 L925.5,588.1 L927.5,587.8 L929.5,587.4 L931.5,587.0 L933.0,586.7 L933.5,586.6 L935.5,586.2 L937.5,585.8 L939.5,585.4 L941.5,585.0 L943.5,584.5 L945.5,584.1 L947.5,583.6 L949.5,583.2 L951.5,582.7 L953.5,582.3 L955.5,581.8 L957.5,581.3 L959.5,580.8 L961.5,580.3 L963.5,579.8 L965.5,579.3 L967.5,578.8 L969.5,578.3 L971.5,577.8 L973.5,577.2 L975.5,576.7 L977.5,576.2 L979.5,575.7 L981.5,575.1 L983.5,574.6 L985.5,574.0 L987.5,573.5 L989.5,572.9 L991.5,572.4 L993.5,571.8 L995.5,571.3 L997.5,570.7 L999.5,570.1 L1000.0,570.0 L1001.5,569.6 L1003.5,569.0 L1005.5,568.4 L1007.5,567.9 L1009.5,567.3 L1011.5,566.7 L1013.5,566.1 L1015.5,565.5 L1017.5,564.9 L1019.5,564.3 L1021.5,563.6 L1023.5,563.0 L1025.5,562.4 L1027.5,561.7 L1029.5,561.1 L1031.5,560.4 L1033.5,559.7 L1035.5,559.1 L1037.5,558.4 L1039.5,557.7 L1040.0,557.5 L1041.5,557.0 L1043.5,556.2 L1045.5,555.5 L1047.5,554.7 L1049.5,553.9 L1051.5,553.1 L1053.5,552.3 L1055.5,551.5 L1057.5,550.7 L1059.5,549.9 L1060.0,549.7 L1061.5,549.1 L1063.5,548.4 L1065.5,547.6 L1067.5,546.8 L1069.5,546.1 L1071.5,545.3 L1073.5,544.5 L1075.5,543.6 L1077.1,542.9 L1077.5,542.7 L1079.5,541.8 L1081.5,540.8 L1083.5,539.7 L1085.5,538.6 L1087.5,537.5 L1089.5,536.3 L1091.5,535.1 L1093.5,533.9 L1094.3,533.4 L1095.5,532.6 L1097.5,531.2 L1099.5,529.8 L1101.5,528.3 L1103.5,526.7 L1105.5,525.2 L1107.5,523.6 L1109.5,522.0 L1111.4,520.6 L1111.5,520.5 L1113.5,519.0 L1115.5,517.5 L1117.5,516.0 L1119.5,514.5 L1121.5,513.0 L1123.5,511.5 L1125.5,510.0 L1127.5,508.5 L1128.6,507.7 L1129.5,507.0 L1131.5,505.5 L1133.5,503.9 L1135.5,502.3 L1137.5,500.7 L1139.5,499.2 L1141.5,497.7 L1143.5,496.3 L1145.5,495.0 L1145.7,494.9 L1147.5,493.8 L1149.5,492.6 L1151.5,491.4 L1153.5,490.3 L1155.5,489.3 L1157.5,488.6 L1159.4,488.0 L1159.5,488.0 L1161.5,487.5 L1163.5,487.2 L1165.5,486.9 L1167.5,486.6 L1169.5,486.4 L1169.7,486.4 L1171.5,486.3 L1173.5,486.2 L1175.5,486.1 L1177.5,486.0 L1179.5,486.0 L1181.5,485.8 L1183.4,485.7 L1183.5,485.7 L1185.5,485.3 L1187.5,484.6 L1189.5,483.8 L1191.5,482.8 L1193.5,481.8 L1195.5,480.9 L1197.1,480.3 L1197.5,480.2 L1199.5,479.4 L1201.5,478.7 L1203.5,477.9 L1205.5,477.2 L1207.5,476.7 L1209.5,476.4 L1210.9,476.3 L1211.5,476.3 L1213.5,476.4 L1215.5,476.7 L1217.5,477.1 L1219.5,477.6 L1221.5,478.2 L1222.9,478.6 L1223.5,478.8 L1225.5,479.8 L1227.5,481.1 L1229.5,482.7 L1231.5,484.6 L1233.5,486.6 L1234.9,488.0 L1235.5,488.6 L1237.5,491.1 L1239.5,493.9 L1241.5,496.9 L1243.5,500.1 L1245.1,502.6 L1245.5,503.2 L1247.5,506.4 L1249.5,509.6 L1251.5,513.1 L1253.5,516.7 L1253.7,517.1 L1255.5,520.6 L1257.5,524.8 L1259.5,529.2 L1261.5,534.0 L1262.3,536.0 L1263.5,539.3 L1265.5,545.5 L1267.5,551.8 L1269.1,556.6 L1269.5,557.7 L1271.5,563.3 L1273.5,568.8 L1275.5,573.9 L1277.5,578.5 L1277.7,578.9 L1279.5,582.6 L1281.5,586.5 L1283.5,590.0 L1285.5,593.2 L1286.3,594.3 L1287.5,595.9 L1289.5,598.5 L1291.5,600.8 L1293.5,602.7 L1294.9,603.7 L1295.5,604.0 L1297.5,605.1 L1299.5,606.0 L1301.5,606.7 L1303.4,607.1 L1303.5,607.1 L1305.5,607.3 L1307.5,607.5 L1309.5,607.7 L1311.5,607.8 L1313.5,607.9 L1315.5,608.0 L1317.1,608.0 L1317.5,608.0 L1319.5,607.9 L1321.5,607.7 L1323.5,607.5 L1325.5,607.1 L1327.5,606.8 L1329.5,606.4 L1331.5,605.9 L1333.5,605.5 L1334.3,605.4 L1335.5,605.2 L1337.5,604.8 L1339.5,604.3 L1341.5,603.9 L1343.5,603.4 L1345.5,602.9 L1347.5,602.4 L1349.5,601.8 L1351.5,601.3 L1353.5,600.8 L1355.5,600.2 L1357.5,599.7 L1359.5,599.1 L1361.5,598.6 L1363.5,598.1 L1365.5,597.6 L1367.5,597.1 L1368.6,596.9 L1369.5,596.7 L1371.5,596.3 L1373.5,595.8 L1375.5,595.4 L1377.5,594.9 L1379.5,594.5 L1381.5,594.0 L1383.5,593.6 L1385.5,593.2 L1387.5,592.7 L1389.5,592.3 L1391.5,591.9 L1393.5,591.6 L1395.5,591.2 L1397.5,590.9 L1399.5,590.5 L1401.5,590.2 L1402.9,590.0 L1403.5,589.9 L1405.5,589.6 L1407.5,589.3 L1409.5,589.0 L1411.5,588.7 L1413.5,588.4 L1415.5,588.2 L1417.5,588.1 L1419.5,588.0 L1420.0,588.0 L1421.5,588.0 L1423.5,588.1 L1425.5,588.2 L1427.5,588.4 L1429.5,588.6 L1431.5,588.8 L1433.5,589.1 L1435.5,589.4 L1437.5,589.6 L1439.5,589.9 L1440.0,590.0 L1441.5,590.2 L1443.5,590.6 L1445.5,591.0 L1447.5,591.5 L1449.5,592.0 L1451.5,592.5 L1453.5,593.1 L1455.5,593.7 L1457.5,594.2 L1459.5,594.8 L1461.5,595.4 L1463.5,595.9 L1465.5,596.4 L1466.7,596.7 L1467.5,596.9 L1469.5,597.4 L1471.5,597.9 L1473.5,598.5 L1475.5,599.1 L1477.5,599.6 L1479.5,600.2 L1481.5,600.6 L1483.5,601.1 L1485.5,601.4 L1487.5,601.6 L1489.5,601.7 L1490.0,601.7 L1491.5,601.7 L1493.5,601.7 L1495.5,601.7 L1497.5,601.7 L1499.5,601.7 L1501.5,601.7 L1503.5,601.7 L1505.5,601.7 L1507.5,601.7 L1509.5,601.7 L1511.5,601.7 L1513.5,601.7 L1515.5,601.7 L1517.5,601.7 L1519.5,601.7 L1521.5,601.7 L1523.5,601.7 L1525.5,601.7 L1527.5,601.7 L1529.5,601.7 L1531.5,601.7 L1533.5,601.7 L1535.5,601.7 L1537.5,601.7 L1539.5,601.7 L1541.5,601.7 L1543.5,601.7 L1545.5,601.7 L1547.5,601.7 L1549.5,601.7 L1550.0,601.7 L1551.5,601.7 L1553.5,601.7 L1555.5,601.7 L1557.5,601.7 L1559.5,601.6 L1561.5,601.6 L1563.5,601.6 L1565.5,601.5 L1567.5,601.5 L1569.5,601.4 L1571.5,601.4 L1573.5,601.3 L1575.5,601.2 L1577.5,601.2 L1579.5,601.1 L1581.5,601.0 L1583.5,600.9 L1585.5,600.8 L1587.5,600.8 L1589.5,600.7 L1591.5,600.6 L1593.5,600.5 L1595.5,600.4 L1597.5,600.3 L1599.5,600.2 L1601.5,600.1 L1603.5,600.0 L1605.5,599.9 L1607.5,599.8 L1609.5,599.7 L1611.5,599.6 L1613.5,599.5 L1615.5,599.4 L1616.7,599.3 L1617.5,599.3 L1619.5,599.1 L1621.5,599.0 L1623.5,598.9 L1625.5,598.8 L1627.5,598.6 L1629.5,598.5 L1631.5,598.3 L1633.5,598.2 L1635.5,598.0 L1637.5,597.8 L1639.5,597.7 L1641.5,597.5 L1643.5,597.3 L1645.5,597.1 L1647.5,596.9 L1649.5,596.7 L1651.5,596.5 L1653.5,596.3 L1655.5,596.1 L1657.5,595.9 L1659.5,595.7 L1661.5,595.5 L1663.5,595.3 L1665.5,595.1 L1666.7,595.0 L1667.5,594.9 L1669.5,594.7 L1671.5,594.5 L1673.5,594.3 L1675.5,594.1 L1677.5,593.8 L1679.5,593.6 L1681.5,593.4 L1683.5,593.1 L1685.5,592.9 L1687.5,592.6 L1689.5,592.4 L1691.5,592.1 L1693.5,591.9 L1695.5,591.6 L1697.5,591.4 L1699.5,591.1 L1701.5,590.8 L1703.5,590.6 L1705.5,590.3 L1707.5,590.0 L1709.5,589.7 L1711.5,589.4 L1713.5,589.2 L1715.5,588.9 L1717.5,588.6 L1718.0,588.5" stroke="#00f" stroke-width="7.8"/>
<path d="M311.5,836.3 L313.5,836.4 L315.5,836.4 L317.5,836.5 L319.5,836.5 L321.5,836.6 L323.5,836.6 L325.5,836.7 L327.5,836.7 L329.5,836.8 L331.5,836.9 L333.5,836.9 L335.5,837.0 L337.5,837.0 L339.5,837.1 L341.5,837.1 L343.5,837.1 L345.5,837.2 L347.5,837.2 L349.5,837.3 L351.5,837.3 L353.5,837.3 L355.5,837.4 L357.5,837.4 L359.5,837.4 L361.5,837.4 L363.5,837.5 L365.5,837.5 L367.5,837.5 L369.5,837.5 L371.5,837.5 L373.0,837.5 L373.5,837.5 L375.5,837.5 L377.5,837.5 L379.5,837.5 L381.5,837.5 L383.5,837.5 L385.5,837.5 L387.5,837.5 L389.5,837.5 L391.5,837.5 L393.5,837.5 L395.5,837.5 L397.5,837.4 L399.5,837.4 L401.5,837.4 L403.5,837.4 L405.5,837.4 L407.5,837.4 L409.5,837.4 L411.5,837.4 L413.5,837.4 L415.5,837.3 L417.5,837.3 L419.5,837.3 L421.5,837.3 L423.5,837.3 L425.5,837.3 L427.5,837.3 L429.5,837.2 L431.5,837.2 L433.5,837.2 L435.5,837.2 L437.5,837.2 L439.5,837.2 L441.5,837.2 L443.5,837.1 L445.5,837.1 L447.5,837.1 L449.5,837.1 L451.5,837.1 L453.5,837.0 L455.5,837.0 L457.5,837.0 L459.5,837.0 L461.5,837.0 L463.5,837.0 L465.5,836.9 L467.5,836.9 L469.5,836.9 L471.5,836.9 L473.5,836.9 L475.5,836.9 L477.5,836.8 L479.5,836.8 L481.5,836.8 L483.5,836.8 L485.5,836.8 L487.5,836.7 L489.5,836.7 L491.5,836.7 L493.0,836.7 L493.5,836.7 L495.5,836.7 L497.5,836.7 L499.5,836.6 L501.5,836.6 L503.5,836.6 L505.5,836.6 L507.5,836.6 L509.5,836.6 L511.5,836.5 L513.5,836.5 L515.5,836.5 L517.5,836.5 L519.5,836.5 L521.5,836.5 L523.5,836.4 L525.5,836.4 L527.5,836.4 L529.5,836.4 L531.5,836.4 L533.5,836.3 L535.5,836.3 L537.5,836.3 L539.5,836.3 L541.5,836.3 L543.5,836.2 L545.5,836.2 L547.5,836.2 L549.5,836.2 L551.5,836.2 L553.5,836.1 L555.5,836.1 L557.5,836.1 L559.5,836.1 L561.5,836.0 L563.5,836.0 L565.5,836.0 L567.5,836.0 L569.5,836.0 L571.5,835.9 L573.5,835.9 L575.5,835.9 L577.5,835.9 L579.5,835.9 L581.5,835.8 L583.5,835.8 L585.5,835.8 L587.5,835.8 L589.5,835.7 L591.5,835.7 L593.5,835.7 L595.5,835.7 L597.5,835.6 L599.5,835.6 L601.5,835.6 L603.5,835.6 L605.5,835.5 L607.5,835.5 L609.5,835.5 L611.5,835.5 L613.5,835.5 L615.5,835.4 L617.5,835.4 L619.5,835.4 L621.5,835.4 L623.5,835.3 L625.5,835.3 L627.5,835.3 L629.5,835.3 L631.5,835.2 L633.5,835.2 L635.5,835.2 L637.5,835.2 L639.5,835.1 L641.5,835.1 L643.5,835.1 L645.5,835.1 L647.5,835.0 L649.5,835.0 L650.0,835.0 L651.5,835.0 L653.5,835.0 L655.5,834.9 L657.5,834.9 L659.5,834.9 L661.5,834.9 L663.5,834.8 L665.5,834.8 L667.5,834.8 L669.5,834.7 L671.5,834.7 L673.5,834.7 L675.5,834.7 L677.5,834.6 L679.5,834.6 L681.5,834.6 L683.5,834.6 L685.5,834.5 L687.5,834.5 L689.5,834.5 L691.5,834.4 L693.5,834.4 L695.5,834.4 L697.5,834.4 L699.5,834.3 L701.5,834.3 L703.5,834.3 L705.5,834.2 L707.5,834.2 L709.5,834.2 L711.5,834.1 L713.5,834.1 L715.5,834.1 L717.5,834.1 L719.5,834.0 L721.5,834.0 L723.5,834.0 L725.5,833.9 L727.5,833.9 L729.5,833.9 L731.5,833.8 L733.5,833.8 L735.5,833.8 L737.5,833.7 L739.5,833.7 L741.5,833.7 L743.5,833.7 L745.5,833.6 L747.5,833.6 L749.5,833.6 L751.5,833.5 L753.5,833.5 L755.5,833.5 L757.5,833.4 L759.5,833.4 L761.5,833.4 L763.5,833.3 L765.5,833.3 L767.5,833.3 L769.5,833.2 L771.5,833.2 L773.5,833.2 L775.5,833.1 L777.5,833.1 L779.5,833.1 L781.5,833.0 L783.5,833.0 L785.5,833.0 L787.5,832.9 L789.5,832.9 L791.5,832.8 L793.5,832.8 L795.5,832.8 L797.5,832.7 L799.5,832.7 L800.0,832.7 L801.5,832.7 L803.5,832.6 L805.5,832.6 L807.5,832.6 L809.5,832.5 L811.5,832.5 L813.5,832.5 L815.5,832.4 L817.5,832.4 L819.5,832.4 L821.5,832.3 L823.5,832.3 L825.5,832.3 L827.5,832.2 L829.5,832.2 L831.5,832.1 L833.5,832.1 L835.5,832.1 L837.5,832.0 L839.5,832.0 L841.5,832.0 L843.5,831.9 L845.5,831.9 L847.5,831.9 L849.5,831.8 L851.5,831.8 L853.5,831.8 L855.5,831.7 L857.5,831.7 L859.5,831.6 L861.5,831.6 L863.5,831.6 L865.5,831.5 L867.5,831.5 L869.5,831.5 L871.5,831.4 L873.5,831.4 L875.5,831.4 L877.5,831.3 L879.5,831.3 L881.5,831.2 L883.5,831.2 L885.5,831.2 L887.5,831.1 L889.5,831.1 L891.5,831.1 L893.5,831.0 L895.5,831.0 L897.5,830.9 L899.5,830.9 L901.5,830.9 L903.5,830.8 L905.5,830.8 L907.5,830.7 L909.5,830.7 L911.5,830.7 L913.5,830.6 L915.5,830.6 L917.5,830.5 L919.5,830.5 L921.5,830.5 L923.5,830.4 L925.5,830.4 L927.5,830.3 L929.5,830.3 L931.5,830.3 L933.5,830.2 L935.5,830.2 L937.5,830.1 L939.5,830.1 L941.5,830.0 L943.5,830.0 L945.5,830.0 L947.5,829.9 L949.5,829.9 L951.5,829.8 L953.5,829.8 L955.5,829.7 L957.5,829.7 L959.5,829.6 L961.5,829.6 L963.5,829.5 L965.5,829.5 L967.5,829.5 L969.5,829.4 L971.5,829.4 L973.5,829.3 L975.5,829.3 L977.5,829.2 L979.5,829.2 L981.5,829.1 L983.5,829.1 L985.5,829.0 L987.5,829.0 L989.5,828.9 L991.5,828.9 L993.5,828.8 L995.5,828.8 L997.5,828.7 L999.5,828.7 L1001.5,828.6 L1003.5,828.5 L1005.5,828.5 L1007.5,828.4 L1009.5,828.4 L1011.5,828.3 L1013.5,828.3 L1015.5,828.2 L1017.5,828.2 L1019.5,828.1 L1021.5,828.0 L1023.5,828.0 L1025.5,827.9 L1027.5,827.9 L1029.5,827.8 L1031.5,827.7 L1033.0,827.7 L1033.5,827.7 L1035.5,827.6 L1037.5,827.6 L1039.5,827.5 L1041.5,827.4 L1043.5,827.4 L1045.5,827.3 L1047.5,827.2 L1049.5,827.2 L1051.5,827.1 L1053.5,827.0 L1055.5,826.9 L1057.5,826.9 L1059.5,826.8 L1061.5,826.7 L1063.5,826.6 L1065.5,826.6 L1067.5,826.5 L1069.5,826.4 L1071.5,826.3 L1073.5,826.2 L1075.5,826.2 L1077.5,826.1 L1079.5,826.0 L1081.5,825.9 L1083.5,825.8 L1085.5,825.7 L1087.5,825.6 L1089.5,825.5 L1091.5,825.4 L1093.5,825.3 L1095.5,825.3 L1097.5,825.2 L1099.5,825.1 L1101.5,825.0 L1103.5,824.9 L1105.5,824.8 L1107.5,824.7 L1109.5,824.6 L1111.5,824.5 L1113.5,824.4 L1115.5,824.3 L1117.5,824.1 L1119.5,824.0 L1121.5,823.9 L1123.5,823.8 L1125.5,823.7 L1127.5,823.6 L1129.5,823.5 L1131.5,823.4 L1133.0,823.3 L1133.5,823.3 L1135.5,823.2 L1137.5,823.0 L1139.5,822.9 L1141.5,822.8 L1143.5,822.7 L1145.5,822.6 L1147.5,822.4 L1149.5,822.3 L1151.5,822.2 L1153.5,822.1 L1155.5,821.9 L1157.5,821.8 L1159.5,821.7 L1161.5,821.5 L1163.5,821.4 L1165.5,821.3 L1167.5,821.1 L1169.5,821.0 L1171.5,820.8 L1173.5,820.7 L1175.5,820.5 L1177.5,820.3 L1179.5,820.2 L1181.5,820.0 L1183.5,819.8 L1185.5,819.7 L1187.5,819.5 L1189.5,819.3 L1191.5,819.1 L1193.5,818.9 L1195.5,818.7 L1197.5,818.6 L1199.5,818.4 L1200.0,818.3 L1201.5,818.1 L1203.5,817.9 L1205.5,817.7 L1207.5,817.5 L1209.5,817.3 L1211.5,817.0 L1213.5,816.8 L1215.5,816.5 L1217.5,816.2 L1219.5,816.0 L1221.5,815.7 L1223.5,815.4 L1225.5,815.1 L1227.5,814.8 L1229.5,814.5 L1231.5,814.2 L1233.5,813.8 L1235.5,813.5 L1237.5,813.1 L1239.5,812.8 L1241.5,812.4 L1243.5,812.0 L1245.5,811.6 L1247.5,811.2 L1249.5,810.8 L1250.0,810.7 L1251.5,810.4 L1253.5,809.9 L1255.5,809.4 L1257.5,808.8 L1259.5,808.2 L1261.5,807.6 L1263.5,806.9 L1265.5,806.2 L1267.5,805.6 L1269.5,804.9 L1271.5,804.2 L1273.5,803.5 L1275.0,803.0 L1275.5,802.8 L1277.5,802.2 L1279.5,801.5 L1281.5,800.8 L1283.5,800.0 L1285.5,799.3 L1287.5,798.5 L1289.5,797.7 L1290.0,797.5 L1291.5,796.9 L1293.5,796.0 L1295.5,795.0 L1297.5,794.1 L1299.5,793.0 L1301.5,791.9 L1302.9,791.1 L1303.5,790.7 L1305.5,789.4 L1307.5,788.0 L1309.5,786.5 L1311.5,784.8 L1313.5,783.2 L1315.5,781.4 L1317.5,779.7 L1317.9,779.3 L1319.5,777.8 L1321.5,775.9 L1323.5,773.8 L1325.5,771.7 L1327.5,769.5 L1329.5,767.3 L1331.5,765.1 L1333.5,762.9 L1335.5,760.7 L1337.5,758.6 L1339.3,756.8 L1339.5,756.6 L1341.5,754.6 L1343.5,752.6 L1345.5,750.6 L1347.5,748.7 L1349.5,746.8 L1351.5,745.1 L1353.5,743.5 L1354.3,742.9 L1355.5,742.1 L1357.5,740.8 L1359.5,739.7 L1361.5,738.5 L1363.0,737.6 L1363.5,737.3 L1365.0,736.2 L1365.5,734.6 L1366.2,731.0 L1367.5,724.8 L1368.2,721.4 L1369.5,714.8 L1371.5,704.7 L1372.5,700.0 L1373.5,695.4 L1375.5,686.6 L1376.8,682.9 L1377.5,681.7 L1379.5,678.7 L1381.5,676.5 L1383.5,674.9 L1384.3,674.3 L1385.5,673.5 L1387.5,672.2 L1389.5,671.0 L1391.5,669.9 L1393.5,669.1 L1395.5,668.6 L1397.1,668.5 L1397.5,668.5 L1399.5,668.9 L1401.5,669.6 L1403.5,670.6 L1405.5,671.7 L1407.5,672.8 L1409.5,673.7 L1410.0,673.9 L1411.5,674.4 L1413.5,675.0 L1415.5,675.6 L1417.5,676.1 L1419.5,676.8 L1421.5,677.5 L1422.9,678.1 L1423.5,678.4 L1425.5,679.6 L1427.5,681.0 L1429.5,682.7 L1431.5,684.5 L1433.5,686.3 L1435.5,688.0 L1435.7,688.2 L1437.5,689.8 L1439.5,691.6 L1441.5,693.5 L1443.5,695.5 L1445.5,697.5 L1447.5,699.4 L1449.5,701.3 L1451.5,703.1 L1452.9,704.3 L1453.5,704.8 L1455.5,706.5 L1457.5,708.2 L1459.5,709.9 L1461.5,711.5 L1463.5,713.1 L1465.5,714.7 L1467.5,716.2 L1469.5,717.6 L1471.5,718.8 L1473.5,720.0 L1474.3,720.4 L1475.5,721.0 L1477.5,722.0 L1479.5,722.9 L1481.5,723.8 L1483.5,724.7 L1485.5,725.5 L1487.5,726.2 L1489.5,726.8 L1491.5,727.4 L1493.5,727.9 L1493.6,727.9 L1495.5,728.3 L1497.5,728.7 L1499.5,729.0 L1501.5,729.3 L1503.5,729.6 L1505.5,729.8 L1507.5,730.1 L1509.5,730.3 L1511.5,730.6 L1513.5,730.9 L1515.0,731.1 L1515.5,731.2 L1517.5,731.5 L1519.5,731.7 L1521.5,732.0 L1523.5,732.3 L1525.5,732.6 L1527.5,732.9 L1529.5,733.2 L1531.5,733.5 L1533.5,733.8 L1535.5,734.1 L1536.4,734.3 L1537.5,734.5 L1539.5,734.9 L1541.5,735.4 L1543.5,735.9 L1545.5,736.4 L1547.5,736.9 L1549.5,737.4 L1551.5,737.9 L1553.5,738.5 L1555.5,739.0 L1557.5,739.5 L1557.9,739.6 L1559.5,740.0 L1561.5,740.4 L1563.5,740.9 L1565.5,741.3 L1567.5,741.8 L1569.5,742.3 L1571.5,742.8 L1573.5,743.4 L1575.0,743.9 L1575.5,744.1 L1577.5,744.8 L1579.5,745.7 L1581.5,746.6 L1583.5,747.6 L1585.5,748.7 L1587.5,749.9 L1589.5,751.1 L1590.0,751.4 L1591.5,752.4 L1593.5,753.9 L1595.5,755.5 L1597.5,757.2 L1599.5,759.0 L1601.5,760.8 L1602.9,762.1 L1603.5,762.6 L1605.5,764.5 L1607.5,766.5 L1609.5,768.5 L1611.5,770.5 L1613.5,772.6 L1615.5,774.8 L1615.7,775.0 L1617.5,777.0 L1619.5,779.3 L1621.5,781.7 L1623.5,784.1 L1625.5,786.4 L1627.5,788.8 L1628.6,790.0 L1629.5,791.0 L1631.5,793.3 L1633.5,795.5 L1635.5,797.7 L1637.5,799.9 L1639.5,802.0 L1641.5,804.1 L1643.5,806.0 L1643.6,806.1 L1645.5,807.9 L1647.5,809.8 L1649.5,811.6 L1651.5,813.3 L1653.5,814.9 L1655.5,816.3 L1656.4,816.8 L1657.5,817.4 L1659.5,818.5 L1661.5,819.5 L1663.5,820.4 L1665.5,821.2 L1667.5,822.0 L1669.5,822.7 L1671.4,823.2 L1671.5,823.2 L1673.5,823.7 L1675.5,824.3 L1677.5,824.7 L1679.5,825.2 L1681.5,825.6 L1683.5,825.9 L1685.5,826.2 L1687.5,826.3 L1688.6,826.4 L1689.5,826.4 L1691.5,826.5 L1693.5,826.5 L1695.5,826.6 L1697.5,826.6 L1699.5,826.6 L1701.5,826.6 L1703.5,826.6 L1705.5,826.6 L1707.5,826.7 L1709.5,826.7 L1711.5,826.8 L1713.5,826.9 L1714.0,826.9 L1715.5,827.6 L1716.5,828.5 L1717.5,830.3 L1718.0,831.5" stroke="#008000" stroke-width="7.8"/>
</g>
<g id="tga" fill="none" stroke-linecap="round" stroke-linejoin="round">
<path d="M283.0,885.0 L285.0,885.2 L287.0,885.5 L289.0,885.7 L291.0,886.0 L293.0,886.2 L295.0,886.5 L297.0,886.8 L299.0,887.1 L301.0,887.4 L303.0,887.7 L305.0,888.0 L307.0,888.3 L309.0,888.6 L311.0,889.0 L313.0,889.3 L315.0,889.7 L317.0,890.0 L319.0,890.4 L321.0,890.7 L323.0,891.1 L325.0,891.5 L327.0,891.8 L329.0,892.2 L331.0,892.6 L333.0,893.0 L335.0,893.4 L337.0,893.8 L339.0,894.3 L341.0,894.7 L343.0,895.2 L345.0,895.7 L347.0,896.2 L349.0,896.7 L351.0,897.3 L353.0,897.8 L355.0,898.4 L357.0,898.9 L359.0,899.5 L361.0,900.0 L363.0,900.6 L365.0,901.1 L367.0,901.7 L369.0,902.2 L371.0,902.8 L373.0,903.3 L375.0,903.9 L377.0,904.4 L379.0,904.9 L381.0,905.4 L383.0,905.9 L385.0,906.3 L385.7,906.5 L387.0,906.8 L389.0,907.2 L391.0,907.6 L393.0,908.0 L395.0,908.5 L395.2,908.5 L397.0,908.9 L399.0,909.4 L401.0,909.9 L403.0,910.5 L405.0,911.0 L407.0,911.6 L409.0,912.1 L411.0,912.7 L413.0,913.3 L415.0,913.8 L417.0,914.4 L419.0,914.9 L421.0,915.5 L423.0,916.0 L425.0,916.5 L427.0,917.0 L428.6,917.4 L429.0,917.5 L431.0,917.9 L433.0,918.3 L435.0,918.7 L437.0,919.1 L439.0,919.5 L441.0,920.0 L442.9,920.4 L443.0,920.4 L445.0,920.9 L447.0,921.4 L449.0,921.9 L451.0,922.4 L453.0,922.9 L455.0,923.5 L457.0,924.0 L459.0,924.6 L461.0,925.1 L463.0,925.7 L465.0,926.3 L467.0,926.8 L469.0,927.4 L471.0,928.0 L473.0,928.6 L475.0,929.2 L477.0,929.7 L479.0,930.3 L480.0,930.6 L481.0,930.9 L483.0,931.5 L485.0,932.0 L487.0,932.6 L489.0,933.2 L491.0,933.8 L493.0,934.4 L495.0,935.0 L497.0,935.7 L499.0,936.3 L500.0,936.6 L501.0,936.9 L503.0,937.6 L505.0,938.3 L507.0,939.0 L509.0,939.7 L511.0,940.4 L513.0,941.1 L515.0,941.9 L517.0,942.6 L519.0,943.3 L521.0,944.0 L523.0,944.7 L525.0,945.4 L527.0,946.1 L529.0,946.7 L530.0,947.0 L531.0,947.3 L533.0,947.9 L535.0,948.5 L537.0,949.0 L539.0,949.6 L541.0,950.1 L543.0,950.7 L545.0,951.2 L547.0,951.7 L549.0,952.2 L551.0,952.7 L553.0,953.3 L555.0,953.8 L557.0,954.3 L559.0,954.7 L561.0,955.2 L563.0,955.7 L565.0,956.2 L567.0,956.7 L569.0,957.2 L571.0,957.7 L573.0,958.2 L575.0,958.7 L577.0,959.2 L579.0,959.7 L580.0,960.0 L581.0,960.3 L583.0,960.8 L585.0,961.3 L587.0,961.8 L589.0,962.3 L591.0,962.9 L593.0,963.4 L595.0,963.9 L597.0,964.4 L599.0,964.9 L601.0,965.5 L603.0,966.0 L605.0,966.5 L607.0,967.0 L609.0,967.5 L611.0,968.1 L613.0,968.6 L615.0,969.1 L617.0,969.6 L619.0,970.1 L621.0,970.7 L623.0,971.2 L625.0,971.7 L627.0,972.2 L629.0,972.7 L630.0,973.0 L631.0,973.3 L633.0,973.8 L635.0,974.3 L637.0,974.8 L639.0,975.3 L641.0,975.9 L643.0,976.4 L645.0,976.9 L647.0,977.4 L649.0,978.0 L651.0,978.5 L653.0,979.0 L655.0,979.5 L657.0,980.1 L659.0,980.6 L661.0,981.1 L663.0,981.6 L665.0,982.1 L667.0,982.7 L669.0,983.2 L671.0,983.7 L673.0,984.2 L675.0,984.7 L677.0,985.2 L679.0,985.7 L680.0,986.0 L681.0,986.3 L683.0,986.8 L685.0,987.3 L687.0,987.8 L689.0,988.3 L691.0,988.8 L693.0,989.3 L695.0,989.8 L697.0,990.2 L699.0,990.7 L701.0,991.2 L703.0,991.7 L705.0,992.2 L707.0,992.7 L709.0,993.2 L711.0,993.7 L713.0,994.2 L715.0,994.7 L717.0,995.2 L719.0,995.7 L721.0,996.2 L723.0,996.7 L725.0,997.2 L727.0,997.7 L729.0,998.2 L730.0,998.5 L731.0,998.8 L733.0,999.3 L735.0,999.8 L737.0,1000.3 L739.0,1000.8 L741.0,1001.4 L743.0,1001.9 L745.0,1002.4 L747.0,1003.0 L749.0,1003.5 L751.0,1004.0 L753.0,1004.6 L755.0,1005.1 L757.0,1005.6 L759.0,1006.2 L761.0,1006.7 L763.0,1007.3 L765.0,1007.8 L767.0,1008.4 L769.0,1008.9 L771.0,1009.5 L773.0,1010.0 L775.0,1010.6 L777.0,1011.2 L779.0,1011.7 L780.0,1012.0 L781.0,1012.3 L783.0,1012.9 L785.0,1013.4 L787.0,1014.0 L789.0,1014.6 L791.0,1015.2 L793.0,1015.8 L795.0,1016.4 L797.0,1017.0 L799.0,1017.6 L801.0,1018.2 L803.0,1018.8 L805.0,1019.4 L807.0,1020.0 L809.0,1020.6 L811.0,1021.2 L813.0,1021.8 L815.0,1022.4 L817.0,1023.0 L819.0,1023.6 L821.0,1024.2 L823.0,1024.9 L825.0,1025.5 L827.0,1026.1 L829.0,1026.7 L830.0,1027.0 L831.0,1027.3 L833.0,1027.9 L835.0,1028.5 L837.0,1029.1 L839.0,1029.7 L841.0,1030.3 L843.0,1030.9 L845.0,1031.6 L847.0,1032.2 L849.0,1032.8 L851.0,1033.4 L853.0,1034.0 L855.0,1034.6 L857.0,1035.2 L859.0,1035.8 L861.0,1036.5 L863.0,1037.1 L865.0,1037.7 L867.0,1038.3 L869.0,1039.0 L871.0,1039.6 L873.0,1040.2 L875.0,1040.9 L877.0,1041.5 L879.0,1042.2 L880.0,1042.5 L881.0,1042.8 L883.0,1043.5 L885.0,1044.2 L887.0,1044.8 L889.0,1045.5 L891.0,1046.2 L893.0,1046.8 L895.0,1047.5 L897.0,1048.2 L899.0,1048.9 L901.0,1049.6 L903.0,1050.3 L905.0,1051.0 L907.0,1051.7 L909.0,1052.4 L911.0,1053.1 L913.0,1053.8 L915.0,1054.5 L917.0,1055.2 L919.0,1056.0 L921.0,1056.7 L923.0,1057.4 L925.0,1058.1 L927.0,1058.9 L929.0,1059.6 L930.0,1060.0 L931.0,1060.4 L933.0,1061.1 L935.0,1061.9 L937.0,1062.6 L939.0,1063.4 L941.0,1064.2 L943.0,1065.0 L945.0,1065.7 L947.0,1066.5 L949.0,1067.3 L951.0,1068.1 L953.0,1068.9 L955.0,1069.7 L957.0,1070.5 L959.0,1071.3 L961.0,1072.1 L963.0,1073.0 L965.0,1073.8 L967.0,1074.6 L969.0,1075.4 L971.0,1076.2 L973.0,1077.1 L975.0,1077.9 L977.0,1078.7 L979.0,1079.6 L980.0,1080.0 L981.0,1080.4 L983.0,1081.3 L985.0,1082.1 L987.0,1082.9 L989.0,1083.8 L991.0,1084.6 L993.0,1085.5 L995.0,1086.3 L997.0,1087.2 L999.0,1088.0 L1001.0,1088.9 L1003.0,1089.8 L1005.0,1090.6 L1007.0,1091.5 L1009.0,1092.4 L1011.0,1093.3 L1013.0,1094.2 L1015.0,1095.1 L1017.0,1096.0 L1019.0,1096.9 L1021.0,1097.8 L1023.0,1098.7 L1025.0,1099.6 L1027.0,1100.6 L1029.0,1101.5 L1030.0,1102.0 L1031.0,1102.5 L1033.0,1103.4 L1035.0,1104.4 L1037.0,1105.4 L1039.0,1106.4 L1041.0,1107.4 L1043.0,1108.4 L1045.0,1109.4 L1047.0,1110.4 L1049.0,1111.4 L1051.0,1112.4 L1053.0,1113.5 L1055.0,1114.5 L1057.0,1115.5 L1059.0,1116.6 L1061.0,1117.7 L1063.0,1118.7 L1065.0,1119.8 L1067.0,1120.9 L1069.0,1121.9 L1071.0,1123.0 L1073.0,1124.1 L1075.0,1125.2 L1077.0,1126.3 L1079.0,1127.4 L1080.0,1128.0 L1081.0,1128.6 L1083.0,1129.7 L1085.0,1130.8 L1087.0,1131.9 L1089.0,1133.1 L1091.0,1134.2 L1093.0,1135.4 L1095.0,1136.6 L1097.0,1137.8 L1099.0,1138.9 L1101.0,1140.1 L1103.0,1141.3 L1105.0,1142.5 L1107.0,1143.7 L1109.0,1144.9 L1111.0,1146.2 L1113.0,1147.4 L1115.0,1148.6 L1117.0,1149.8 L1119.0,1151.1 L1121.0,1152.3 L1123.0,1153.6 L1125.0,1154.8 L1127.0,1156.1 L1129.0,1157.4 L1130.0,1158.0 L1131.0,1158.6 L1133.0,1159.9 L1135.0,1161.2 L1137.0,1162.5 L1139.0,1163.8 L1141.0,1165.1 L1143.0,1166.4 L1145.0,1167.8 L1147.0,1169.1 L1149.0,1170.4 L1151.0,1171.8 L1153.0,1173.2 L1155.0,1174.5 L1157.0,1175.9 L1159.0,1177.3 L1160.0,1178.0 L1161.0,1178.7 L1163.0,1180.1 L1165.0,1181.5 L1167.0,1183.0 L1169.0,1184.4 L1171.0,1185.8 L1173.0,1187.3 L1175.0,1188.8 L1177.0,1190.3 L1179.0,1191.7 L1181.0,1193.2 L1183.0,1194.7 L1185.0,1196.2 L1187.0,1197.7 L1189.0,1199.2 L1190.0,1200.0 L1191.0,1200.8 L1193.0,1202.3 L1195.0,1203.8 L1197.0,1205.4 L1199.0,1206.9 L1201.0,1208.5 L1203.0,1210.0 L1205.0,1211.6 L1207.0,1213.2 L1209.0,1214.8 L1211.0,1216.4 L1213.0,1218.0 L1215.0,1219.6 L1217.0,1221.3 L1219.0,1223.1 L1221.0,1224.8 L1223.0,1226.5 L1225.0,1228.2 L1227.0,1229.8 L1229.0,1231.3 L1230.0,1232.0 L1231.0,1232.7 L1233.0,1234.1 L1235.0,1235.5 L1237.0,1236.8 L1239.0,1238.1 L1241.0,1239.4 L1243.0,1240.5 L1245.0,1241.7 L1247.0,1242.7 L1249.0,1243.6 L1250.0,1244.0 L1251.0,1244.4 L1253.0,1245.2 L1255.0,1245.9 L1257.0,1246.6 L1259.0,1247.2 L1261.0,1247.9 L1263.0,1248.4 L1265.0,1248.9 L1267.0,1249.4 L1269.0,1249.8 L1270.0,1250.0 L1271.0,1250.2 L1273.0,1250.5 L1275.0,1250.8 L1277.0,1251.2 L1279.0,1251.5 L1281.0,1251.8 L1283.0,1252.0 L1285.0,1252.3 L1287.0,1252.5 L1289.0,1252.8 L1291.0,1253.0 L1293.0,1253.1 L1295.0,1253.3 L1297.0,1253.4 L1299.0,1253.6 L1300.0,1253.6 L1301.0,1253.6 L1303.0,1253.7 L1305.0,1253.8 L1307.0,1253.9 L1309.0,1254.0 L1311.0,1254.0 L1313.0,1254.1 L1315.0,1254.2 L1317.0,1254.2 L1319.0,1254.3 L1321.0,1254.4 L1323.0,1254.4 L1325.0,1254.5 L1327.0,1254.5 L1329.0,1254.6 L1331.0,1254.6 L1333.0,1254.7 L1335.0,1254.7 L1337.0,1254.8 L1339.0,1254.8 L1341.0,1254.8 L1343.0,1254.9 L1345.0,1254.9 L1347.0,1254.9 L1349.0,1255.0 L1351.0,1255.0 L1353.0,1255.0 L1355.0,1255.1 L1357.0,1255.1 L1359.0,1255.1 L1361.0,1255.2 L1363.0,1255.2 L1365.0,1255.2 L1367.0,1255.3 L1369.0,1255.3 L1371.0,1255.3 L1373.0,1255.4 L1375.0,1255.4 L1377.0,1255.5 L1379.0,1255.5 L1381.0,1255.5 L1383.0,1255.6 L1385.0,1255.6 L1387.0,1255.7 L1389.0,1255.7 L1391.0,1255.8 L1393.0,1255.8 L1395.0,1255.9 L1397.0,1255.9 L1399.0,1256.0 L1400.0,1256.0 L1401.0,1256.0 L1403.0,1256.1 L1405.0,1256.2 L1407.0,1256.2 L1409.0,1256.3 L1411.0,1256.4 L1413.0,1256.4 L1415.0,1256.5 L1417.0,1256.6 L1419.0,1256.7 L1421.0,1256.7 L1423.0,1256.8 L1425.0,1256.9 L1427.0,1257.0 L1429.0,1257.1 L1431.0,1257.2 L1433.0,1257.3 L1435.0,1257.3 L1437.0,1257.4 L1439.0,1257.5 L1441.0,1257.6 L1443.0,1257.7 L1445.0,1257.8 L1447.0,1257.9 L1449.0,1258.0 L1451.0,1258.1 L1453.0,1258.1 L1455.0,1258.2 L1457.0,1258.3 L1459.0,1258.4 L1461.0,1258.5 L1463.0,1258.6 L1465.0,1258.7 L1467.0,1258.8 L1469.0,1258.9 L1471.0,1258.9 L1473.0,1259.0 L1475.0,1259.1 L1477.0,1259.2 L1479.0,1259.3 L1481.0,1259.3 L1483.0,1259.4 L1485.0,1259.5 L1487.0,1259.6 L1489.0,1259.6 L1491.0,1259.7 L1493.0,1259.8 L1495.0,1259.8 L1497.0,1259.9 L1499.0,1260.0 L1500.0,1260.0 L1501.0,1260.0 L1503.0,1260.1 L1505.0,1260.1 L1507.0,1260.2 L1509.0,1260.3 L1511.0,1260.3 L1513.0,1260.4 L1515.0,1260.4 L1517.0,1260.5 L1519.0,1260.5 L1521.0,1260.6 L1523.0,1260.6 L1525.0,1260.7 L1527.0,1260.7 L1529.0,1260.8 L1531.0,1260.8 L1533.0,1260.9 L1535.0,1260.9 L1537.0,1260.9 L1539.0,1261.0 L1541.0,1261.0 L1543.0,1261.1 L1545.0,1261.1 L1547.0,1261.2 L1549.0,1261.2 L1551.0,1261.3 L1553.0,1261.3 L1555.0,1261.3 L1557.0,1261.4 L1559.0,1261.4 L1561.0,1261.5 L1563.0,1261.5 L1565.0,1261.6 L1567.0,1261.6 L1569.0,1261.6 L1571.0,1261.7 L1573.0,1261.7 L1575.0,1261.8 L1577.0,1261.8 L1579.0,1261.8 L1581.0,1261.9 L1583.0,1261.9 L1585.0,1262.0 L1587.0,1262.0 L1589.0,1262.1 L1591.0,1262.1 L1593.0,1262.1 L1595.0,1262.2 L1597.0,1262.2 L1599.0,1262.3 L1600.0,1262.3 L1601.0,1262.3 L1603.0,1262.4 L1605.0,1262.4 L1607.0,1262.4 L1609.0,1262.5 L1611.0,1262.5 L1613.0,1262.6 L1615.0,1262.6 L1617.0,1262.6 L1619.0,1262.7 L1621.0,1262.7 L1623.0,1262.7 L1625.0,1262.8 L1627.0,1262.8 L1629.0,1262.8 L1631.0,1262.9 L1633.0,1262.9 L1635.0,1262.9 L1637.0,1263.0 L1639.0,1263.0 L1641.0,1263.0 L1643.0,1263.1 L1645.0,1263.1 L1647.0,1263.1 L1649.0,1263.2 L1651.0,1263.2 L1653.0,1263.3 L1655.0,1263.3 L1657.0,1263.3 L1659.0,1263.4 L1661.0,1263.4 L1663.0,1263.4 L1665.0,1263.5 L1667.0,1263.5 L1669.0,1263.6 L1671.0,1263.6 L1673.0,1263.7 L1675.0,1263.7 L1677.0,1263.8 L1679.0,1263.8 L1681.0,1263.9 L1683.0,1263.9 L1685.0,1264.0 L1687.0,1264.1 L1689.0,1264.1 L1691.0,1264.2 L1693.0,1264.2 L1695.0,1264.3 L1697.0,1264.4 L1699.0,1264.5 L1700.0,1264.5 L1701.0,1264.5 L1703.0,1264.6 L1705.0,1264.7 L1707.0,1264.9 L1709.0,1265.0 L1711.0,1265.1 L1713.0,1265.3 L1715.0,1265.4 L1717.0,1265.6 L1719.0,1265.8 L1721.0,1266.0 L1723.0,1266.2 L1725.0,1266.4 L1727.0,1266.6 L1729.0,1266.8 L1731.0,1267.1 L1733.0,1267.3 L1735.0,1267.6 L1737.0,1267.8 L1739.0,1268.1 L1741.0,1268.3 L1743.0,1268.6 L1745.0,1268.9 L1747.0,1269.2 L1749.0,1269.4 L1751.0,1269.7 L1753.0,1270.0 L1755.0,1270.3 L1757.0,1270.6 L1759.0,1270.9 L1760.0,1271.0 L1761.0,1271.1 L1763.0,1271.4 L1765.0,1271.8 L1767.0,1272.1 L1769.0,1272.4 L1771.0,1272.8 L1773.0,1273.1 L1775.0,1273.5 L1777.0,1273.9 L1779.0,1274.3 L1781.0,1274.7 L1783.0,1275.1 L1785.0,1275.6 L1787.0,1276.0 L1789.0,1276.4 L1791.0,1276.9 L1793.0,1277.3 L1795.0,1277.8 L1797.0,1278.3 L1799.0,1278.8 L1800.0,1279.0 L1801.0,1279.2 L1803.0,1279.8 L1805.0,1280.3 L1807.0,1280.8 L1809.0,1281.4 L1811.0,1282.0 L1813.0,1282.6 L1815.0,1283.2 L1817.0,1283.8 L1819.0,1284.4 L1821.0,1285.1 L1823.0,1285.7 L1825.0,1286.4 L1827.0,1287.0 L1829.0,1287.7 L1830.0,1288.0 L1831.0,1288.3 L1833.0,1289.0 L1835.0,1289.7 L1837.0,1290.3 L1839.0,1291.0 L1841.0,1291.7 L1843.0,1292.4 L1845.0,1293.2 L1847.0,1293.9 L1849.0,1294.6 L1851.0,1295.4 L1853.0,1296.2 L1855.0,1296.9 L1857.0,1297.8 L1859.0,1298.6 L1860.0,1299.0 L1861.0,1299.4 L1863.0,1300.3 L1865.0,1301.2 L1867.0,1302.1 L1869.0,1303.1 L1871.0,1304.1 L1873.0,1305.1 L1875.0,1306.1 L1877.0,1307.1 L1879.0,1308.2 L1881.0,1309.2 L1883.0,1310.3 L1885.0,1311.3 L1887.0,1312.4 L1889.0,1313.5 L1890.0,1314.0 L1891.0,1314.5 L1893.0,1315.6 L1895.0,1316.7 L1897.0,1317.7 L1899.0,1318.8 L1901.0,1319.9 L1903.0,1321.0 L1905.0,1322.1 L1907.0,1323.3 L1909.0,1324.4 L1911.0,1325.6 L1913.0,1326.7 L1915.0,1327.9 L1917.0,1329.1 L1919.0,1330.4 L1920.0,1331.0 L1921.0,1331.6 L1923.0,1332.9 L1925.0,1334.2 L1927.0,1335.5 L1929.0,1336.9 L1931.0,1338.2 L1933.0,1339.6 L1935.0,1341.0 L1937.0,1342.5 L1939.0,1343.9 L1941.0,1345.3 L1943.0,1346.8 L1945.0,1348.3 L1947.0,1349.8 L1949.0,1351.3 L1950.0,1352.0 L1951.0,1352.8 L1953.0,1354.3 L1955.0,1355.8 L1957.0,1357.4 L1959.0,1359.0 L1961.0,1360.6 L1963.0,1362.2 L1965.0,1363.8 L1967.0,1365.5 L1969.0,1367.2 L1970.0,1368.0 L1971.0,1368.9 L1973.0,1370.6 L1975.0,1372.3 L1977.0,1374.1 L1979.0,1375.9 L1981.0,1377.7 L1983.0,1379.6 L1985.0,1381.4 L1987.0,1383.3 L1989.0,1385.1 L1990.0,1386.0 L1991.0,1386.9 L1993.0,1388.7 L1995.0,1390.5 L1997.0,1392.3 L1999.0,1394.0 L2001.0,1395.8 L2003.0,1397.7 L2005.0,1399.5 L2007.0,1401.5 L2009.0,1403.5 L2010.0,1404.5 L2011.0,1405.6 L2013.0,1407.8 L2015.0,1410.1 L2017.0,1412.4 L2019.0,1414.8 L2020.0,1416.0 L2021.0,1417.2 L2023.0,1419.5 L2025.0,1421.7 L2027.0,1424.0 L2029.0,1426.3 L2031.0,1428.6 L2033.0,1431.0 L2035.0,1433.4 L2037.0,1436.0 L2039.0,1438.6 L2040.0,1440.0 L2041.0,1441.4 L2043.0,1444.5 L2045.0,1447.8 L2047.0,1451.1 L2049.0,1454.4 L2050.0,1456.0 L2051.0,1457.6 L2053.0,1460.7 L2055.0,1463.7 L2057.0,1466.8 L2059.0,1469.9 L2061.0,1473.1 L2063.0,1476.3 L2064.0,1478.0 L2065.0,1479.7 L2067.0,1483.1 L2069.0,1486.6 L2071.0,1490.1 L2073.0,1493.9 L2075.0,1497.9 L2076.0,1500.0 L2077.0,1502.2 L2079.0,1507.0 L2081.0,1512.2 L2083.0,1517.4 L2084.0,1520.0 L2085.0,1522.6 L2087.0,1527.8 L2089.0,1533.1 L2091.0,1538.4 L2092.0,1541.0 L2093.0,1543.7 L2095.0,1549.0 L2097.0,1554.3 L2098.0,1557.0 L2099.0,1559.7 L2101.0,1565.1 L2103.0,1570.5 L2105.0,1575.9 L2107.0,1581.3 L2109.0,1586.6 L2111.0,1591.9 L2111.7,1593.7 L2113.0,1597.0 L2115.0,1602.1 L2117.0,1607.1 L2119.0,1612.0 L2121.0,1617.0 L2123.0,1622.0 L2125.0,1627.0 L2127.0,1632.1 L2129.0,1637.2 L2131.0,1642.3 L2133.0,1647.5 L2135.0,1652.6 L2136.7,1657.0 L2137.0,1657.8 L2139.0,1663.1 L2141.0,1668.3 L2141.7,1670.0 L2143.0,1672.9 L2144.5,1676.0" stroke="#000" stroke-width="7.8"/>
<path d="M283.0,885.0 L285.0,885.3 L287.0,885.5 L289.0,885.8 L291.0,886.1 L293.0,886.3 L295.0,886.6 L297.0,886.9 L299.0,887.2 L301.0,887.4 L303.0,887.7 L305.0,888.0 L307.0,888.3 L309.0,888.6 L311.0,888.9 L313.0,889.1 L315.0,889.4 L317.0,889.7 L319.0,890.0 L321.0,890.3 L323.0,890.6 L325.0,890.9 L325.7,891.0 L327.0,891.2 L329.0,891.5 L331.0,891.8 L333.0,892.1 L335.0,892.4 L337.0,892.7 L339.0,893.0 L341.0,893.3 L343.0,893.7 L345.0,894.0 L347.0,894.3 L347.6,894.4 L349.0,894.6 L351.0,895.0 L353.0,895.3 L355.0,895.6 L357.0,895.9 L359.0,896.3 L361.0,896.6 L363.0,896.9 L365.0,897.3 L367.0,897.6 L369.0,898.0 L371.0,898.3 L373.0,898.7 L375.0,899.0 L377.0,899.4 L377.1,899.4 L379.0,899.8 L381.0,900.1 L383.0,900.5 L385.0,900.9 L387.0,901.3 L389.0,901.7 L391.0,902.2 L393.0,902.6 L395.0,903.0 L395.2,903.0 L397.0,903.4 L399.0,903.7 L401.0,904.1 L403.0,904.5 L405.0,904.9 L407.0,905.2 L409.0,905.6 L411.0,906.0 L413.0,906.4 L415.0,906.8 L417.0,907.2 L419.0,907.6 L421.0,908.0 L423.0,908.4 L425.0,908.9 L427.0,909.3 L428.6,909.7 L429.0,909.8 L431.0,910.3 L433.0,910.9 L435.0,911.5 L437.0,912.2 L439.0,912.8 L441.0,913.4 L442.9,913.9 L443.0,913.9 L445.0,914.4 L447.0,914.9 L449.0,915.4 L451.0,915.9 L453.0,916.3 L455.0,916.7 L457.0,917.1 L459.0,917.6 L461.0,918.0 L463.0,918.4 L465.0,918.8 L467.0,919.3 L469.0,919.7 L471.0,920.2 L473.0,920.7 L475.0,921.2 L477.0,921.7 L479.0,922.3 L480.0,922.6 L481.0,922.9 L483.0,923.6 L485.0,924.3 L487.0,925.0 L489.0,925.8 L491.0,926.7 L493.0,927.5 L495.0,928.4 L497.0,929.2 L499.0,930.1 L500.0,930.5 L501.0,930.9 L503.0,931.8 L505.0,932.7 L507.0,933.6 L509.0,934.5 L511.0,935.4 L513.0,936.4 L515.0,937.3 L517.0,938.2 L519.0,939.1 L520.0,939.5 L521.0,939.9 L523.0,940.8 L525.0,941.6 L527.0,942.4 L529.0,943.3 L531.0,944.1 L533.0,944.9 L535.0,945.7 L537.0,946.5 L539.0,947.3 L541.0,948.1 L543.0,948.8 L545.0,949.7 L547.0,950.5 L549.0,951.3 L551.0,952.1 L553.0,952.9 L555.0,953.8 L557.0,954.7 L559.0,955.6 L560.0,956.0 L561.0,956.5 L563.0,957.4 L565.0,958.3 L567.0,959.2 L569.0,960.2 L571.0,961.1 L573.0,962.1 L575.0,963.0 L577.0,964.0 L579.0,965.0 L581.0,966.0 L583.0,967.0 L585.0,968.0 L587.0,969.1 L589.0,970.1 L591.0,971.1 L593.0,972.2 L595.0,973.3 L597.0,974.4 L599.0,975.5 L600.0,976.0 L601.0,976.6 L603.0,977.7 L605.0,978.8 L607.0,980.0 L609.0,981.2 L611.0,982.4 L613.0,983.6 L615.0,984.8 L617.0,986.1 L619.0,987.4 L620.0,988.0 L621.0,988.6 L623.0,990.0 L625.0,991.3 L627.0,992.6 L629.0,994.0 L631.0,995.4 L633.0,996.8 L635.0,998.3 L637.0,999.7 L639.0,1001.2 L640.0,1002.0 L641.0,1002.8 L643.0,1004.4 L645.0,1006.0 L647.0,1007.7 L649.0,1009.4 L651.0,1011.1 L653.0,1012.9 L655.0,1014.6 L657.0,1016.4 L659.0,1018.1 L660.0,1019.0 L661.0,1019.9 L663.0,1021.6 L665.0,1023.2 L667.0,1024.9 L669.0,1026.6 L671.0,1028.3 L673.0,1030.0 L675.0,1031.8 L677.0,1033.6 L679.0,1035.5 L680.0,1036.5 L681.0,1037.5 L683.0,1039.5 L685.0,1041.7 L687.0,1043.8 L689.0,1046.1 L691.0,1048.3 L693.0,1050.7 L695.0,1053.0 L697.0,1055.4 L699.0,1057.8 L700.0,1059.0 L701.0,1060.2 L703.0,1062.7 L705.0,1065.2 L707.0,1067.7 L709.0,1070.3 L711.0,1072.9 L713.0,1075.5 L715.0,1078.2 L717.0,1080.9 L719.0,1083.6 L720.0,1085.0 L721.0,1086.4 L723.0,1089.2 L725.0,1092.0 L727.0,1094.8 L729.0,1097.7 L731.0,1100.6 L733.0,1103.5 L735.0,1106.5 L737.0,1109.5 L739.0,1112.5 L740.0,1114.0 L741.0,1115.5 L743.0,1118.6 L745.0,1121.7 L747.0,1124.8 L749.0,1128.0 L751.0,1131.2 L753.0,1134.4 L755.0,1137.7 L757.0,1141.0 L759.0,1144.3 L760.0,1146.0 L761.0,1147.7 L763.0,1151.2 L765.0,1154.7 L767.0,1158.3 L769.0,1161.9 L771.0,1165.6 L773.0,1169.2 L775.0,1172.9 L777.0,1176.6 L779.0,1180.2 L780.0,1182.0 L781.0,1183.8 L783.0,1187.4 L785.0,1190.9 L787.0,1194.4 L789.0,1198.0 L791.0,1201.5 L793.0,1205.1 L795.0,1208.7 L797.0,1212.4 L799.0,1216.1 L800.0,1218.0 L801.0,1219.9 L803.0,1223.7 L805.0,1227.6 L807.0,1231.5 L809.0,1235.5 L811.0,1239.5 L813.0,1243.5 L815.0,1247.6 L817.0,1251.7 L819.0,1255.9 L820.0,1258.0 L821.0,1260.1 L823.0,1264.4 L825.0,1268.8 L827.0,1273.2 L829.0,1277.7 L831.0,1282.2 L833.0,1286.7 L835.0,1291.3 L837.0,1295.9 L839.0,1300.5 L841.0,1305.2 L843.0,1309.9 L845.0,1314.7 L847.0,1319.4 L849.0,1324.1 L851.0,1328.8 L853.0,1333.5 L855.0,1338.2 L857.0,1342.8 L859.0,1347.5 L861.0,1352.1 L863.0,1356.8 L865.0,1361.4 L867.0,1366.1 L869.0,1370.7 L871.0,1375.4 L873.0,1380.0 L875.0,1384.6 L877.0,1389.3 L879.0,1394.0 L881.0,1398.7 L883.0,1403.3 L885.0,1408.0 L887.0,1412.6 L889.0,1417.2 L891.0,1421.8 L893.0,1426.3 L893.3,1427.0 L895.0,1430.9 L897.0,1435.4 L899.0,1440.0 L901.0,1444.6 L903.0,1449.1 L905.0,1453.5 L907.0,1457.7 L909.0,1461.8 L910.0,1463.7 L911.0,1465.6 L913.0,1469.3 L915.0,1472.9 L917.0,1476.4 L919.0,1479.7 L921.0,1483.0 L923.0,1486.2 L925.0,1489.4 L926.7,1492.0 L927.0,1492.5 L929.0,1495.5 L931.0,1498.5 L933.0,1501.5 L935.0,1504.4 L937.0,1507.2 L939.0,1509.9 L941.0,1512.5 L943.0,1514.9 L943.3,1515.3 L945.0,1517.2 L947.0,1519.4 L949.0,1521.5 L951.0,1523.5 L953.0,1525.4 L955.0,1527.3 L957.0,1529.2 L959.0,1531.1 L960.0,1532.0 L961.0,1533.0 L963.0,1534.9 L965.0,1536.9 L967.0,1538.8 L969.0,1540.7 L971.0,1542.5 L973.0,1544.3 L975.0,1545.8 L976.7,1547.0 L977.0,1547.2 L979.0,1548.5 L981.0,1549.7 L983.0,1550.8 L985.0,1551.9 L987.0,1553.0 L989.0,1553.9 L991.0,1554.9 L993.0,1555.8 L995.0,1556.7 L997.0,1557.5 L999.0,1558.3 L1000.0,1558.7 L1001.0,1559.1 L1003.0,1559.8 L1005.0,1560.6 L1007.0,1561.3 L1009.0,1562.0 L1011.0,1562.6 L1013.0,1563.3 L1015.0,1563.9 L1017.0,1564.5 L1019.0,1565.0 L1021.0,1565.6 L1023.0,1566.1 L1025.0,1566.6 L1026.7,1567.0 L1027.0,1567.1 L1029.0,1567.5 L1031.0,1568.0 L1033.0,1568.4 L1035.0,1568.8 L1037.0,1569.2 L1039.0,1569.6 L1041.0,1569.9 L1043.0,1570.3 L1045.0,1570.6 L1047.0,1570.9 L1049.0,1571.2 L1050.0,1571.3 L1051.0,1571.4 L1053.0,1571.7 L1055.0,1571.9 L1057.0,1572.1 L1059.0,1572.3 L1061.0,1572.5 L1063.0,1572.7 L1065.0,1572.9 L1067.0,1573.1 L1069.0,1573.3 L1071.0,1573.4 L1073.0,1573.6 L1075.0,1573.7 L1077.0,1573.9 L1079.0,1574.0 L1081.0,1574.2 L1083.0,1574.3 L1083.3,1574.3 L1085.0,1574.4 L1087.0,1574.5 L1089.0,1574.6 L1091.0,1574.8 L1093.0,1574.9 L1095.0,1575.0 L1097.0,1575.1 L1099.0,1575.2 L1101.0,1575.3 L1103.0,1575.4 L1105.0,1575.5 L1107.0,1575.6 L1109.0,1575.7 L1111.0,1575.8 L1113.0,1575.8 L1115.0,1575.9 L1117.0,1575.9 L1119.0,1575.9 L1120.0,1575.9 L1121.0,1575.9 L1123.0,1575.9 L1125.0,1575.9 L1127.0,1575.9 L1129.0,1575.9 L1131.0,1575.9 L1133.0,1575.9 L1135.0,1575.9 L1137.0,1575.9 L1139.0,1575.9 L1141.0,1575.9 L1143.0,1575.9 L1145.0,1575.9 L1147.0,1575.9 L1149.0,1575.9 L1151.0,1575.9 L1153.0,1575.9 L1155.0,1575.9 L1157.0,1575.9 L1159.0,1575.9 L1161.0,1575.9 L1163.0,1575.9 L1165.0,1575.9 L1167.0,1575.9 L1169.0,1575.9 L1171.0,1575.9 L1173.0,1575.9 L1175.0,1575.9 L1177.0,1575.9 L1179.0,1575.9 L1181.0,1575.9 L1183.0,1575.9 L1185.0,1575.9 L1187.0,1575.9 L1189.0,1575.9 L1191.0,1575.9 L1193.0,1575.9 L1195.0,1575.9 L1197.0,1575.9 L1199.0,1575.9 L1201.0,1575.9 L1203.0,1575.9 L1205.0,1575.9 L1207.0,1575.9 L1209.0,1575.9 L1211.0,1575.9 L1213.0,1575.9 L1215.0,1575.9 L1217.0,1575.9 L1219.0,1575.9 L1221.0,1575.9 L1223.0,1575.9 L1225.0,1575.9 L1227.0,1575.9 L1229.0,1575.9 L1231.0,1575.9 L1233.0,1575.9 L1235.0,1575.9 L1237.0,1575.9 L1239.0,1575.9 L1241.0,1575.9 L1243.0,1575.9 L1245.0,1575.9 L1247.0,1575.9 L1249.0,1575.9 L1251.0,1575.9 L1253.0,1575.9 L1255.0,1575.9 L1257.0,1575.9 L1259.0,1575.9 L1261.0,1575.9 L1263.0,1575.9 L1265.0,1575.9 L1267.0,1575.9 L1269.0,1575.9 L1271.0,1575.9 L1273.0,1575.9 L1275.0,1575.9 L1277.0,1575.9 L1279.0,1575.9 L1281.0,1575.9 L1283.0,1575.9 L1285.0,1575.9 L1287.0,1575.9 L1289.0,1575.9 L1291.0,1575.9 L1293.0,1575.9 L1295.0,1575.9 L1297.0,1575.9 L1299.0,1575.9 L1300.0,1575.9 L1301.0,1575.9 L1303.0,1575.9 L1305.0,1575.9 L1307.0,1575.9 L1309.0,1575.9 L1311.0,1575.9 L1313.0,1575.9 L1315.0,1575.9 L1317.0,1575.9 L1319.0,1575.9 L1321.0,1575.9 L1323.0,1575.9 L1325.0,1575.9 L1327.0,1575.9 L1329.0,1575.9 L1331.0,1575.9 L1333.0,1575.9 L1335.0,1575.9 L1337.0,1575.9 L1339.0,1575.9 L1341.0,1575.9 L1343.0,1575.9 L1345.0,1575.9 L1347.0,1575.9 L1349.0,1575.9 L1351.0,1575.9 L1353.0,1575.9 L1355.0,1575.9 L1357.0,1575.9 L1359.0,1575.9 L1361.0,1575.9 L1363.0,1575.9 L1365.0,1575.9 L1367.0,1575.9 L1369.0,1575.9 L1371.0,1575.9 L1373.0,1575.9 L1375.0,1575.9 L1377.0,1575.9 L1379.0,1575.9 L1381.0,1575.9 L1383.0,1575.9 L1385.0,1575.9 L1387.0,1575.9 L1389.0,1575.9 L1391.0,1575.9 L1393.0,1575.9 L1395.0,1575.9 L1397.0,1575.9 L1399.0,1575.9 L1401.0,1575.9 L1403.0,1575.9 L1405.0,1575.9 L1407.0,1575.9 L1409.0,1575.9 L1411.0,1575.9 L1413.0,1575.9 L1415.0,1575.9 L1417.0,1575.9 L1419.0,1575.9 L1421.0,1575.9 L1423.0,1575.9 L1425.0,1575.9 L1427.0,1575.9 L1429.0,1575.9 L1431.0,1575.9 L1433.0,1575.9 L1435.0,1575.9 L1437.0,1575.9 L1439.0,1575.9 L1441.0,1575.9 L1443.0,1575.9 L1445.0,1575.9 L1447.0,1575.9 L1449.0,1575.9 L1451.0,1575.9 L1453.0,1575.9 L1455.0,1575.9 L1457.0,1575.9 L1459.0,1575.9 L1461.0,1575.9 L1463.0,1575.9 L1465.0,1575.9 L1467.0,1575.9 L1469.0,1575.9 L1471.0,1575.9 L1473.0,1575.9 L1475.0,1575.9 L1477.0,1575.9 L1479.0,1575.9 L1481.0,1575.9 L1483.0,1575.9 L1485.0,1575.9 L1487.0,1575.9 L1489.0,1575.9 L1491.0,1575.9 L1493.0,1575.9 L1495.0,1575.9 L1497.0,1575.9 L1499.0,1575.9 L1501.0,1575.9 L1503.0,1575.9 L1505.0,1575.9 L1507.0,1575.9 L1509.0,1575.9 L1511.0,1575.9 L1513.0,1575.9 L1515.0,1575.9 L1517.0,1575.9 L1519.0,1575.9 L1521.0,1575.9 L1523.0,1575.9 L1525.0,1575.9 L1527.0,1575.9 L1529.0,1575.9 L1531.0,1575.9 L1533.0,1575.9 L1535.0,1575.9 L1537.0,1575.9 L1539.0,1575.9 L1541.0,1575.9 L1543.0,1575.9 L1545.0,1575.9 L1547.0,1575.9 L1549.0,1575.9 L1551.0,1575.9 L1553.0,1575.9 L1555.0,1575.9 L1557.0,1575.9 L1559.0,1575.9 L1561.0,1575.9 L1563.0,1575.9 L1565.0,1575.9 L1567.0,1575.9 L1569.0,1575.9 L1571.0,1575.9 L1573.0,1575.9 L1575.0,1575.9 L1577.0,1575.9 L1579.0,1575.9 L1581.0,1575.9 L1583.0,1575.9 L1585.0,1575.9 L1587.0,1575.9 L1589.0,1575.9 L1591.0,1575.9 L1593.0,1575.9 L1595.0,1575.9 L1597.0,1575.9 L1599.0,1575.9 L1601.0,1575.9 L1603.0,1575.9 L1605.0,1575.9 L1607.0,1575.9 L1609.0,1575.9 L1611.0,1575.9 L1613.0,1575.9 L1615.0,1575.9 L1617.0,1575.9 L1619.0,1575.9 L1621.0,1575.9 L1623.0,1575.9 L1625.0,1575.9 L1627.0,1575.9 L1629.0,1575.9 L1631.0,1575.9 L1633.0,1575.9 L1635.0,1575.9 L1637.0,1575.9 L1639.0,1575.9 L1641.0,1575.9 L1643.0,1575.9 L1645.0,1575.9 L1647.0,1575.9 L1649.0,1575.9 L1651.0,1575.9 L1653.0,1575.9 L1655.0,1575.9 L1657.0,1575.9 L1659.0,1575.9 L1661.0,1575.9 L1663.0,1575.9 L1665.0,1575.9 L1667.0,1575.9 L1669.0,1575.9 L1671.0,1575.9 L1673.0,1575.9 L1675.0,1575.9 L1677.0,1575.9 L1679.0,1575.9 L1681.0,1576.0 L1683.0,1576.0 L1685.0,1576.0 L1687.0,1576.0 L1689.0,1576.0 L1691.0,1576.0 L1693.0,1576.0 L1695.0,1576.0 L1697.0,1576.0 L1699.0,1576.0 L1701.0,1576.0 L1703.0,1576.0 L1705.0,1576.0 L1707.0,1576.0 L1709.0,1576.0 L1711.0,1576.0 L1713.0,1576.0 L1715.0,1576.0 L1717.0,1576.0 L1719.0,1576.0 L1721.0,1576.0 L1723.0,1576.0 L1725.0,1576.0 L1727.0,1576.0 L1729.0,1576.0 L1731.0,1576.0 L1733.0,1576.0 L1735.0,1576.0 L1737.0,1576.0 L1739.0,1576.0 L1741.0,1576.0 L1743.0,1576.0 L1745.0,1576.0 L1747.0,1576.0 L1749.0,1576.0 L1751.0,1576.0 L1753.0,1576.0 L1755.0,1576.0 L1757.0,1576.0 L1759.0,1576.0 L1761.0,1576.0 L1763.0,1576.0 L1765.0,1576.0 L1767.0,1576.0 L1769.0,1576.0 L1771.0,1576.0 L1773.0,1576.0 L1775.0,1576.0 L1777.0,1576.0 L1779.0,1576.0 L1781.0,1576.0 L1783.0,1576.0 L1785.0,1576.0 L1787.0,1576.0 L1789.0,1576.0 L1791.0,1576.0 L1793.0,1576.0 L1795.0,1576.0 L1797.0,1576.0 L1799.0,1576.0 L1801.0,1576.0 L1803.0,1576.0 L1805.0,1576.0 L1807.0,1576.0 L1809.0,1576.0 L1811.0,1576.0 L1813.0,1576.0 L1815.0,1576.0 L1817.0,1576.0 L1819.0,1576.0 L1821.0,1576.0 L1823.0,1576.0 L1825.0,1576.0 L1827.0,1576.0 L1829.0,1576.0 L1831.0,1576.0 L1833.0,1576.0 L1835.0,1576.0 L1837.0,1576.0 L1839.0,1576.0 L1841.0,1576.0 L1843.0,1576.0 L1845.0,1576.0 L1847.0,1576.0 L1849.0,1576.0 L1851.0,1576.0 L1853.0,1576.1 L1855.0,1576.1 L1857.0,1576.1 L1859.0,1576.1 L1861.0,1576.1 L1863.0,1576.1 L1865.0,1576.1 L1867.0,1576.1 L1869.0,1576.1 L1871.0,1576.1 L1873.0,1576.1 L1875.0,1576.1 L1877.0,1576.1 L1879.0,1576.1 L1881.0,1576.1 L1883.0,1576.1 L1885.0,1576.1 L1887.0,1576.1 L1889.0,1576.1 L1891.0,1576.1 L1893.0,1576.1 L1895.0,1576.1 L1897.0,1576.1 L1899.0,1576.1 L1901.0,1576.1 L1903.0,1576.1 L1905.0,1576.1 L1907.0,1576.1 L1909.0,1576.1 L1911.0,1576.1 L1913.0,1576.1 L1915.0,1576.1 L1917.0,1576.1 L1919.0,1576.1 L1921.0,1576.1 L1923.0,1576.1 L1925.0,1576.1 L1927.0,1576.1 L1929.0,1576.1 L1931.0,1576.1 L1933.0,1576.1 L1935.0,1576.1 L1937.0,1576.1 L1939.0,1576.1 L1941.0,1576.1 L1943.0,1576.1 L1945.0,1576.1 L1947.0,1576.1 L1949.0,1576.1 L1951.0,1576.1 L1953.0,1576.1 L1955.0,1576.1 L1957.0,1576.1 L1959.0,1576.2 L1961.0,1576.2 L1963.0,1576.2 L1965.0,1576.2 L1967.0,1576.2 L1969.0,1576.2 L1971.0,1576.2 L1973.0,1576.2 L1975.0,1576.2 L1977.0,1576.2 L1979.0,1576.2 L1981.0,1576.2 L1983.0,1576.2 L1985.0,1576.2 L1987.0,1576.2 L1989.0,1576.2 L1991.0,1576.2 L1993.0,1576.2 L1995.0,1576.2 L1997.0,1576.2 L1999.0,1576.2 L2000.0,1576.2 L2001.0,1576.2 L2003.0,1576.5 L2005.0,1576.9 L2007.0,1577.2 L2008.0,1577.2 L2009.0,1577.2 L2011.0,1577.2 L2013.0,1577.2 L2015.0,1577.2 L2017.0,1577.2 L2019.0,1577.2 L2021.0,1577.2 L2023.0,1577.2 L2025.0,1577.2 L2027.0,1577.2 L2029.0,1577.2 L2031.0,1577.2 L2033.0,1577.2 L2035.0,1577.2 L2037.0,1577.2 L2039.0,1577.2 L2041.0,1577.2 L2043.0,1577.2 L2045.0,1577.2 L2046.0,1577.2 L2047.0,1577.2 L2049.0,1577.5 L2051.0,1577.7 L2053.0,1578.0 L2054.0,1578.0 L2055.0,1578.0 L2057.0,1578.0 L2059.0,1578.0 L2061.0,1578.0 L2063.0,1578.0 L2065.0,1578.0 L2067.0,1578.0 L2069.0,1578.0 L2071.0,1578.0 L2073.0,1578.0 L2075.0,1578.0 L2077.0,1578.0 L2079.0,1578.0 L2081.0,1578.0 L2083.0,1578.0 L2085.0,1578.0 L2087.0,1578.0 L2089.0,1578.0 L2091.0,1578.0 L2093.0,1578.0 L2095.0,1578.0 L2097.0,1578.0 L2099.0,1578.0 L2101.0,1578.0 L2103.0,1578.0 L2105.0,1578.0 L2107.0,1578.0 L2109.0,1578.0 L2111.0,1578.0 L2113.0,1578.0 L2115.0,1578.0 L2117.0,1578.0 L2119.0,1578.0 L2121.0,1578.0 L2123.0,1578.0 L2125.0,1578.0 L2127.0,1578.0 L2129.0,1578.0 L2131.0,1578.0 L2133.0,1578.0 L2135.0,1578.0 L2137.0,1578.0 L2139.0,1578.0 L2141.0,1578.0 L2143.0,1578.0" stroke="#f00" stroke-width="7.8"/>
<path d="M272.0,889.5 L274.0,887.3 L276.0,885.6 L277.0,885.0 L278.0,884.5 L280.0,883.6 L282.0,883.1 L283.0,883.0 L284.0,883.0 L286.0,883.3 L288.0,883.9 L290.0,884.6 L292.0,885.4 L294.0,886.3 L296.0,887.1 L298.0,887.9 L300.0,888.5 L302.0,889.0 L304.0,889.4 L306.0,889.8 L308.0,890.2 L310.0,890.6 L312.0,890.9 L314.0,891.3 L316.0,891.7 L318.0,892.1 L320.0,892.5 L322.0,892.9 L324.0,893.4 L326.0,893.8 L328.0,894.3 L330.0,894.7 L332.0,895.2 L334.0,895.6 L336.0,896.1 L338.0,896.6 L340.0,897.1 L342.0,897.5 L344.0,898.0 L346.0,898.6 L347.6,899.1 L348.0,899.2 L350.0,899.8 L352.0,900.4 L354.0,900.9 L356.0,901.4 L358.0,901.9 L360.0,902.3 L362.0,902.8 L364.0,903.3 L366.0,903.9 L368.0,904.5 L370.0,905.2 L372.0,905.9 L374.0,906.7 L376.0,907.3 L378.0,908.0 L380.0,908.7 L382.0,909.4 L384.0,910.2 L386.0,911.1 L388.0,912.0 L390.0,912.9 L392.0,913.8 L394.0,914.5 L395.2,914.9 L396.0,915.2 L398.0,915.8 L400.0,916.6 L402.0,917.5 L404.0,918.6 L406.0,919.8 L408.0,921.0 L410.0,922.1 L412.0,923.1 L414.0,924.0 L416.0,924.7 L418.0,925.4 L420.0,926.2 L422.0,927.1 L423.8,928.0 L424.0,928.2 L426.0,929.3 L428.0,930.6 L430.0,931.8 L432.0,933.0 L434.0,934.1 L436.0,935.2 L438.0,936.4 L440.0,937.7 L442.0,939.2 L444.0,940.7 L446.0,942.1 L448.0,943.2 L450.0,944.1 L452.0,944.6 L452.4,944.7 L454.0,945.0 L456.0,945.4 L458.0,945.9 L460.0,946.7 L462.0,947.7 L464.0,948.9 L466.0,950.0 L468.0,951.0 L470.0,951.9 L472.0,952.6 L474.0,953.3 L476.0,954.0 L478.0,954.8 L480.0,955.8 L481.0,956.3 L482.0,956.8 L484.0,957.8 L486.0,958.7 L488.0,959.5 L490.0,960.0 L492.0,960.6 L494.0,961.2 L496.0,962.1 L498.0,963.1 L500.0,964.4 L502.0,965.8 L504.0,967.1 L506.0,968.2 L508.0,969.2 L510.0,969.9 L512.0,970.6 L514.0,971.4 L516.0,972.4 L518.0,973.6 L520.0,974.9 L522.0,976.4 L524.0,977.8 L526.0,979.0 L528.0,980.1 L530.0,981.0 L532.0,982.0 L534.0,983.0 L536.0,984.1 L538.0,985.2 L540.0,986.4 L542.0,987.3 L544.0,988.0 L546.0,988.5 L548.0,988.8 L550.0,989.1 L552.0,989.5 L554.0,990.1 L556.0,991.0 L558.0,992.1 L560.0,993.2 L562.0,994.3 L564.0,995.2 L566.0,996.0 L568.0,996.5 L570.0,997.1 L572.0,997.7 L574.0,998.5 L576.0,999.4 L578.0,1000.4 L580.0,1001.3 L582.0,1002.1 L584.0,1002.8 L586.0,1003.3 L588.0,1003.9 L590.0,1004.6 L592.0,1005.4 L594.0,1006.4 L596.0,1007.5 L598.0,1008.5 L600.0,1009.4 L602.0,1010.0 L604.0,1010.4 L606.0,1010.7 L608.0,1010.9 L610.0,1011.4 L612.0,1012.1 L614.0,1013.0 L616.0,1014.1 L618.0,1015.2 L620.0,1016.3 L622.0,1017.2 L624.0,1018.0 L626.0,1018.7 L628.0,1019.5 L630.0,1020.3 L632.0,1021.3 L634.0,1022.3 L636.0,1023.2 L638.0,1023.9 L640.0,1024.5 L642.0,1024.9 L644.0,1025.2 L646.0,1025.6 L648.0,1026.2 L650.0,1027.0 L652.0,1028.1 L654.0,1029.4 L656.0,1030.6 L658.0,1031.6 L660.0,1032.4 L662.0,1033.1 L664.0,1033.7 L666.0,1034.3 L668.0,1035.1 L670.0,1036.1 L672.0,1037.1 L674.0,1038.2 L676.0,1039.2 L678.0,1040.1 L680.0,1040.8 L682.0,1041.4 L684.0,1042.0 L686.0,1042.7 L688.0,1043.5 L690.0,1044.3 L692.0,1045.1 L694.0,1045.6 L696.0,1045.9 L698.0,1046.0 L700.0,1045.9 L702.0,1045.7 L704.0,1045.7 L706.0,1045.9 L708.0,1046.5 L710.0,1047.3 L712.0,1048.3 L714.0,1049.4 L716.0,1050.4 L718.0,1051.3 L720.0,1052.0 L722.0,1052.8 L724.0,1053.7 L726.0,1054.7 L728.0,1055.7 L730.0,1056.7 L732.0,1057.6 L734.0,1058.3 L736.0,1058.8 L738.0,1059.1 L740.0,1059.3 L742.0,1059.7 L744.0,1060.2 L746.0,1060.9 L748.0,1061.8 L750.0,1062.7 L752.0,1063.4 L754.0,1063.9 L756.0,1064.2 L758.0,1064.4 L760.0,1064.6 L762.0,1065.0 L764.0,1065.6 L766.0,1066.4 L768.0,1067.5 L770.0,1068.6 L772.0,1069.6 L774.0,1070.6 L776.0,1071.4 L778.0,1072.2 L780.0,1073.0 L782.0,1074.0 L784.0,1075.2 L786.0,1076.4 L788.0,1077.6 L790.0,1078.6 L792.0,1079.4 L794.0,1079.9 L796.0,1080.2 L798.0,1080.5 L800.0,1080.8 L802.0,1081.3 L804.0,1082.0 L806.0,1082.7 L808.0,1083.5 L810.0,1084.1 L812.0,1084.5 L814.0,1084.6 L816.0,1084.7 L818.0,1084.7 L820.0,1084.8 L822.0,1085.1 L824.0,1085.4 L826.0,1085.7 L828.0,1086.0 L830.0,1086.2 L832.0,1086.3 L834.0,1086.4 L836.0,1086.8 L838.0,1087.4 L840.0,1088.3 L842.0,1089.4 L844.0,1090.7 L846.0,1091.9 L848.0,1093.0 L850.0,1093.8 L852.0,1094.4 L854.0,1095.0 L856.0,1095.7 L858.0,1096.5 L860.0,1097.5 L862.0,1098.8 L864.0,1100.2 L866.0,1101.6 L868.0,1102.9 L870.0,1104.0 L872.0,1105.0 L874.0,1106.0 L876.0,1106.9 L878.0,1107.9 L880.0,1108.8 L882.0,1109.5 L884.0,1110.1 L886.0,1110.5 L888.0,1110.7 L890.0,1110.7 L892.0,1110.7 L894.0,1110.8 L896.0,1111.2 L898.0,1111.9 L900.0,1112.7 L902.0,1113.7 L904.0,1114.5 L906.0,1115.2 L908.0,1115.6 L910.0,1115.9 L912.0,1116.2 L914.0,1116.6 L916.0,1117.1 L918.0,1118.0 L920.0,1119.1 L922.0,1120.3 L924.0,1121.4 L926.0,1122.3 L928.0,1123.0 L930.0,1123.4 L932.0,1123.7 L934.0,1124.1 L936.0,1124.7 L938.0,1125.3 L940.0,1125.8 L942.0,1126.2 L944.0,1126.4 L946.0,1126.5 L948.0,1126.4 L950.0,1126.5 L952.0,1127.1 L954.0,1128.4 L956.0,1130.2 L958.0,1132.2 L960.0,1134.2 L962.0,1135.7 L964.0,1136.7 L966.0,1137.1 L968.0,1137.3 L970.0,1137.4 L972.0,1137.6 L974.0,1137.9 L976.0,1138.3 L978.0,1138.7 L980.0,1139.2 L982.0,1139.6 L984.0,1140.3 L986.0,1141.0 L988.0,1141.9 L990.0,1143.0 L992.0,1144.1 L994.0,1145.3 L996.0,1146.5 L998.0,1147.7 L1000.0,1148.5 L1002.0,1149.1 L1004.0,1149.5 L1006.0,1149.7 L1008.0,1149.9 L1010.0,1150.3 L1012.0,1150.7 L1014.0,1151.4 L1016.0,1152.1 L1018.0,1152.7 L1020.0,1153.3 L1022.0,1153.7 L1024.0,1154.1 L1026.0,1154.5 L1028.0,1155.2 L1030.0,1156.0 L1032.0,1157.0 L1034.0,1158.0 L1036.0,1158.9 L1038.0,1159.7 L1040.0,1160.3 L1042.0,1160.8 L1044.0,1161.4 L1046.0,1162.1 L1048.0,1163.1 L1050.0,1164.4 L1052.0,1165.9 L1054.0,1167.4 L1056.0,1168.8 L1058.0,1169.9 L1060.0,1170.8 L1062.0,1171.4 L1064.0,1172.0 L1066.0,1172.6 L1068.0,1173.3 L1070.0,1174.1 L1072.0,1174.9 L1074.0,1175.7 L1076.0,1176.3 L1078.0,1176.8 L1080.0,1177.3 L1082.0,1177.9 L1084.0,1178.6 L1086.0,1179.6 L1088.0,1180.8 L1090.0,1182.2 L1092.0,1183.6 L1094.0,1184.7 L1096.0,1185.6 L1098.0,1186.2 L1100.0,1186.6 L1102.0,1186.8 L1104.0,1187.2 L1106.0,1187.7 L1108.0,1188.3 L1110.0,1189.0 L1112.0,1189.7 L1114.0,1190.4 L1116.0,1190.9 L1118.0,1191.3 L1120.0,1191.7 L1122.0,1192.2 L1124.0,1192.8 L1126.0,1193.5 L1128.0,1194.4 L1130.0,1195.2 L1132.0,1195.9 L1134.0,1196.4 L1136.0,1196.7 L1138.0,1197.0 L1140.0,1197.4 L1142.0,1198.0 L1144.0,1198.9 L1146.0,1200.0 L1148.0,1201.3 L1150.0,1202.6 L1152.0,1203.6 L1154.0,1204.5 L1156.0,1205.1 L1158.0,1205.6 L1160.0,1206.1 L1162.0,1206.7 L1164.0,1207.5 L1166.0,1208.3 L1168.0,1209.3 L1170.0,1210.1 L1172.0,1210.8 L1174.0,1211.4 L1176.0,1212.0 L1178.0,1212.5 L1180.0,1213.2 L1182.0,1214.0 L1184.0,1215.0 L1186.0,1216.0 L1188.0,1216.8 L1190.0,1217.4 L1192.0,1217.7 L1194.0,1217.7 L1196.0,1217.6 L1198.0,1217.5 L1200.0,1217.6 L1202.0,1217.9 L1204.0,1218.3 L1206.0,1218.8 L1208.0,1219.2 L1210.0,1219.5 L1212.0,1219.6 L1214.0,1219.6 L1216.0,1219.6 L1218.0,1219.6 L1220.0,1219.7 L1222.0,1219.9 L1224.0,1220.1 L1226.0,1220.2 L1228.0,1220.1 L1230.0,1219.8 L1232.0,1219.5 L1234.0,1219.1 L1236.0,1218.9 L1238.0,1219.0 L1240.0,1219.3 L1242.0,1219.9 L1244.0,1220.6 L1246.0,1221.3 L1248.0,1221.9 L1250.0,1222.2 L1252.0,1222.4 L1254.0,1222.4 L1256.0,1222.4 L1258.0,1222.5 L1260.0,1222.5 L1262.0,1222.6 L1264.0,1222.6 L1266.0,1222.4 L1268.0,1222.2 L1270.0,1221.9 L1272.0,1221.7 L1274.0,1221.6 L1276.0,1221.7 L1278.0,1222.0 L1280.0,1222.4 L1282.0,1222.9 L1284.0,1223.3 L1286.0,1223.5 L1288.0,1223.5 L1290.0,1223.4 L1292.0,1223.3 L1294.0,1223.4 L1296.0,1223.6 L1298.0,1224.0 L1300.0,1224.4 L1302.0,1224.7 L1304.0,1225.0 L1306.0,1225.0 L1308.0,1224.9 L1310.0,1224.8 L1312.0,1224.7 L1314.0,1224.7 L1316.0,1224.9 L1318.0,1225.1 L1320.0,1225.3 L1322.0,1225.4 L1324.0,1225.4 L1326.0,1225.2 L1328.0,1225.0 L1330.0,1224.9 L1332.0,1225.0 L1334.0,1225.3 L1336.0,1225.8 L1338.0,1226.4 L1340.0,1226.8 L1342.0,1227.0 L1344.0,1226.9 L1346.0,1226.5 L1348.0,1226.1 L1350.0,1225.7 L1352.0,1225.4 L1354.0,1225.3 L1356.0,1225.3 L1358.0,1225.5 L1360.0,1225.6 L1362.0,1225.7 L1364.0,1225.6 L1366.0,1225.5 L1366.7,1225.5 L1368.0,1225.5 L1370.0,1225.6 L1372.0,1225.9 L1374.0,1226.2 L1376.0,1226.6 L1378.0,1226.8 L1380.0,1226.7 L1382.0,1226.4 L1384.0,1226.0 L1386.0,1225.4 L1388.0,1225.0 L1390.0,1224.8 L1392.0,1224.8 L1394.0,1225.0 L1396.0,1225.2 L1398.0,1225.4 L1400.0,1225.4 L1402.0,1225.1 L1404.0,1224.8 L1406.0,1224.4 L1408.0,1224.1 L1410.0,1224.0 L1412.0,1224.0 L1414.0,1224.1 L1416.0,1224.1 L1418.0,1224.0 L1420.0,1223.8 L1422.0,1223.6 L1424.0,1223.4 L1426.0,1223.3 L1428.0,1223.4 L1430.0,1223.7 L1432.0,1224.2 L1434.0,1224.5 L1436.0,1224.7 L1438.0,1224.6 L1440.0,1224.3 L1442.0,1223.8 L1444.0,1223.3 L1446.0,1222.9 L1448.0,1222.7 L1450.0,1222.8 L1452.0,1223.0 L1454.0,1223.2 L1456.0,1223.4 L1458.0,1223.5 L1460.0,1223.5 L1462.0,1223.5 L1464.0,1223.6 L1466.0,1223.8 L1468.0,1224.1 L1470.0,1224.5 L1472.0,1224.9 L1474.0,1225.0 L1476.0,1224.9 L1478.0,1224.7 L1480.0,1224.3 L1482.0,1224.0 L1484.0,1223.9 L1486.0,1224.1 L1488.0,1224.4 L1490.0,1224.9 L1492.0,1225.3 L1494.0,1225.5 L1496.0,1225.5 L1498.0,1225.4 L1500.0,1225.1 L1502.0,1224.9 L1504.0,1224.8 L1506.0,1224.9 L1508.0,1225.1 L1510.0,1225.4 L1512.0,1225.6 L1514.0,1225.7 L1516.0,1225.8 L1518.0,1225.7 L1520.0,1225.8 L1522.0,1225.9 L1524.0,1226.3 L1526.0,1226.8 L1528.0,1227.2 L1530.0,1227.5 L1532.0,1227.6 L1533.0,1227.5 L1534.0,1227.4 L1536.0,1226.9 L1538.0,1226.4 L1540.0,1226.0 L1542.0,1225.8 L1544.0,1225.9 L1546.0,1226.1 L1548.0,1226.5 L1550.0,1226.8 L1552.0,1227.0 L1554.0,1227.1 L1556.0,1227.1 L1558.0,1227.1 L1560.0,1227.2 L1562.0,1227.4 L1564.0,1227.7 L1566.0,1228.0 L1568.0,1228.2 L1570.0,1228.2 L1572.0,1228.0 L1574.0,1227.7 L1576.0,1227.4 L1578.0,1227.2 L1580.0,1227.3 L1582.0,1227.6 L1584.0,1228.0 L1586.0,1228.4 L1588.0,1228.7 L1590.0,1228.8 L1592.0,1228.6 L1594.0,1228.3 L1596.0,1227.9 L1598.0,1227.7 L1600.0,1227.7 L1602.0,1227.9 L1604.0,1228.1 L1606.0,1228.4 L1608.0,1228.6 L1610.0,1228.7 L1612.0,1228.8 L1614.0,1228.8 L1616.0,1228.9 L1618.0,1229.1 L1620.0,1229.5 L1622.0,1229.9 L1624.0,1230.2 L1626.0,1230.3 L1628.0,1230.2 L1630.0,1229.8 L1632.0,1229.3 L1633.0,1229.1 L1634.0,1228.8 L1636.0,1228.6 L1638.0,1228.6 L1640.0,1228.9 L1642.0,1229.3 L1644.0,1229.7 L1646.0,1230.1 L1648.0,1230.3 L1650.0,1230.3 L1652.0,1230.3 L1654.0,1230.3 L1656.0,1230.4 L1658.0,1230.6 L1660.0,1230.9 L1662.0,1231.2 L1664.0,1231.3 L1666.0,1231.2 L1668.0,1231.1 L1670.0,1230.8 L1672.0,1230.7 L1674.0,1230.7 L1676.0,1230.9 L1678.0,1231.3 L1680.0,1231.8 L1682.0,1232.2 L1684.0,1232.3 L1686.0,1232.3 L1688.0,1232.0 L1690.0,1231.6 L1692.0,1231.4 L1694.0,1231.3 L1696.0,1231.4 L1698.0,1231.7 L1700.0,1232.1 L1702.0,1232.5 L1704.0,1232.8 L1705.0,1232.9 L1706.0,1232.9 L1708.0,1233.0 L1710.0,1233.1 L1712.0,1233.3 L1714.0,1233.5 L1716.0,1233.9 L1718.0,1234.2 L1720.0,1234.4 L1722.0,1234.4 L1724.0,1234.1 L1726.0,1233.7 L1728.0,1233.3 L1730.0,1233.0 L1732.0,1233.0 L1734.0,1233.2 L1736.0,1233.7 L1738.0,1234.3 L1740.0,1234.7 L1742.0,1235.1 L1744.0,1235.2 L1746.0,1235.2 L1748.0,1235.1 L1750.0,1235.2 L1752.0,1235.3 L1754.0,1235.6 L1756.0,1236.0 L1758.0,1236.2 L1760.0,1236.4 L1762.0,1236.4 L1764.0,1236.4 L1766.0,1236.3 L1768.0,1236.4 L1770.0,1236.7 L1772.0,1237.2 L1774.0,1237.7 L1776.0,1238.3 L1778.0,1238.7 L1780.0,1238.8 L1782.0,1238.8 L1784.0,1238.6 L1786.0,1238.4 L1788.0,1238.4 L1790.0,1238.6 L1792.0,1239.1 L1794.0,1239.8 L1796.0,1240.4 L1798.0,1241.0 L1800.0,1241.4 L1802.0,1241.7 L1804.0,1241.8 L1806.0,1242.1 L1808.0,1242.4 L1810.0,1242.7 L1812.0,1243.2 L1814.0,1243.5 L1816.0,1243.7 L1818.0,1243.7 L1820.0,1243.5 L1822.0,1243.3 L1824.0,1243.2 L1826.0,1243.3 L1828.0,1243.7 L1830.0,1244.3 L1832.0,1245.1 L1834.0,1245.9 L1836.0,1246.5 L1838.0,1246.9 L1840.0,1247.2 L1842.0,1247.3 L1844.0,1247.5 L1846.0,1247.8 L1848.0,1248.3 L1850.0,1248.9 L1852.0,1249.5 L1854.0,1250.0 L1856.0,1250.5 L1858.0,1250.7 L1860.0,1251.0 L1862.0,1251.2 L1864.0,1251.6 L1866.0,1252.2 L1868.0,1252.9 L1870.0,1253.6 L1872.0,1254.2 L1874.0,1254.6 L1876.0,1254.8 L1878.0,1254.8 L1880.0,1254.8 L1882.0,1255.0 L1884.0,1255.4 L1886.0,1256.0 L1888.0,1256.9 L1890.0,1257.9 L1892.0,1258.8 L1894.0,1259.6 L1896.0,1260.2 L1898.0,1260.7 L1900.0,1261.1 L1902.0,1261.6 L1904.0,1262.2 L1906.0,1262.9 L1908.0,1263.5 L1910.0,1264.1 L1912.0,1264.6 L1914.0,1264.9 L1916.0,1265.2 L1918.0,1265.5 L1920.0,1266.0 L1922.0,1266.8 L1924.0,1267.9 L1926.0,1269.3 L1928.0,1270.7 L1930.0,1272.0 L1932.0,1273.1 L1934.0,1274.0 L1936.0,1274.6 L1938.0,1275.2 L1940.0,1275.7 L1942.0,1276.4 L1944.0,1277.1 L1946.0,1277.9 L1948.0,1278.7 L1950.0,1279.3 L1952.0,1279.8 L1954.0,1280.2 L1956.0,1280.6 L1958.0,1281.2 L1960.0,1281.9 L1962.0,1282.9 L1964.0,1284.1 L1966.0,1285.4 L1968.0,1286.5 L1970.0,1287.5 L1972.0,1288.3 L1974.0,1289.1 L1976.0,1289.9 L1978.0,1290.8 L1980.0,1292.0 L1982.0,1293.3 L1984.0,1294.7 L1986.0,1296.0 L1988.0,1297.2 L1990.0,1298.2 L1992.0,1298.9 L1994.0,1299.6 L1996.0,1300.3 L1998.0,1301.2 L2000.0,1302.3 L2002.0,1303.5 L2004.0,1304.8 L2006.0,1306.1 L2008.0,1307.4 L2010.0,1308.6 L2012.0,1309.8 L2014.0,1311.1 L2016.0,1312.7 L2018.0,1314.5 L2020.0,1316.7 L2022.0,1318.9 L2024.0,1321.1 L2026.0,1323.1 L2028.0,1324.8 L2030.0,1326.3 L2032.0,1327.7 L2034.0,1329.2 L2036.0,1330.9 L2038.0,1332.7 L2040.0,1334.7 L2042.0,1336.8 L2044.0,1338.8 L2046.0,1340.7 L2048.0,1342.5 L2050.0,1344.2 L2052.0,1346.0 L2054.0,1347.8 L2056.0,1349.9 L2058.0,1352.0 L2060.0,1354.1 L2062.0,1356.2 L2064.0,1358.1 L2066.0,1359.8 L2068.0,1361.5 L2070.0,1363.1 L2072.0,1364.9 L2074.0,1366.8 L2076.0,1369.1 L2078.0,1371.5 L2080.0,1373.9 L2082.0,1376.3 L2084.0,1378.5 L2086.0,1380.6 L2088.0,1382.5 L2090.0,1384.4 L2092.0,1386.6 L2094.0,1389.2 L2096.0,1391.9 L2098.0,1394.6 L2100.0,1397.1 L2102.0,1399.3 L2104.0,1401.3 L2106.0,1403.1 L2108.0,1405.0 L2110.0,1407.0 L2112.0,1409.3 L2114.0,1411.8 L2116.0,1414.4 L2118.0,1417.0 L2120.0,1419.5 L2122.0,1421.9 L2124.0,1424.4 L2126.0,1427.2 L2128.0,1430.4 L2130.0,1433.9 L2132.0,1437.8 L2134.0,1441.7 L2136.0,1445.6 L2138.0,1449.5 L2140.0,1453.3 L2142.0,1456.8 L2144.0,1460.2 L2145.0,1461.9" stroke="#00f" stroke-width="7.8"/>
<path d="M266.0,886.0 L268.0,886.7 L270.0,887.4 L272.0,888.1 L274.0,888.8 L276.0,889.5 L278.0,890.2 L280.0,890.9 L282.0,891.6 L284.0,892.3 L286.0,893.0 L288.0,893.7 L290.0,894.3 L292.0,895.0 L294.0,895.7 L296.0,896.3 L298.0,897.0 L300.0,897.6 L302.0,898.2 L304.0,898.9 L306.0,899.5 L308.0,900.1 L310.0,900.7 L312.0,901.2 L314.0,901.8 L316.0,902.4 L318.0,903.0 L320.0,903.5 L322.0,904.1 L324.0,904.6 L326.0,905.2 L328.0,905.8 L330.0,906.4 L332.0,906.9 L334.0,907.5 L336.0,908.1 L338.0,908.7 L340.0,909.3 L342.0,910.0 L344.0,910.6 L346.0,911.3 L347.6,911.8 L348.0,911.9 L350.0,912.6 L352.0,913.3 L354.0,914.0 L356.0,914.8 L358.0,915.5 L360.0,916.3 L362.0,917.0 L364.0,917.8 L366.0,918.6 L368.0,919.4 L370.0,920.2 L372.0,921.0 L374.0,921.8 L376.0,922.6 L378.0,923.4 L380.0,924.2 L382.0,925.1 L384.0,925.9 L386.0,926.7 L388.0,927.5 L390.0,928.3 L392.0,929.1 L394.0,929.8 L395.2,930.3 L396.0,930.6 L398.0,931.4 L400.0,932.2 L402.0,932.9 L404.0,933.7 L406.0,934.5 L408.0,935.3 L410.0,936.0 L412.0,936.8 L414.0,937.6 L416.0,938.4 L418.0,939.1 L420.0,939.9 L422.0,940.7 L424.0,941.5 L426.0,942.2 L428.0,943.0 L430.0,943.8 L432.0,944.5 L434.0,945.3 L436.0,946.0 L438.0,946.8 L440.0,947.5 L442.0,948.3 L442.9,948.6 L444.0,949.0 L446.0,949.7 L448.0,950.4 L450.0,951.1 L452.0,951.8 L454.0,952.5 L456.0,953.2 L458.0,953.9 L460.0,954.6 L462.0,955.2 L464.0,955.9 L466.0,956.6 L468.0,957.3 L470.0,958.0 L472.0,958.6 L474.0,959.3 L476.0,960.0 L478.0,960.8 L480.0,961.5 L482.0,962.2 L484.0,963.0 L486.0,963.7 L488.0,964.5 L490.0,965.3 L490.5,965.5 L492.0,966.1 L494.0,967.0 L496.0,967.8 L498.0,968.7 L500.0,969.6 L502.0,970.6 L504.0,971.5 L506.0,972.5 L508.0,973.5 L510.0,974.4 L512.0,975.4 L514.0,976.4 L516.0,977.4 L518.0,978.4 L520.0,979.3 L522.0,980.3 L524.0,981.2 L526.0,982.2 L528.0,983.1 L530.0,984.0 L532.0,984.9 L534.0,985.8 L536.0,986.6 L538.0,987.5 L540.0,988.4 L542.0,989.2 L544.0,990.1 L546.0,990.9 L548.0,991.8 L550.0,992.6 L552.0,993.4 L554.0,994.3 L556.0,995.1 L558.0,995.9 L560.0,996.8 L562.0,997.6 L564.0,998.4 L566.0,999.2 L568.0,1000.0 L570.0,1000.9 L572.0,1001.7 L574.0,1002.5 L576.0,1003.3 L578.0,1004.2 L580.0,1005.0 L582.0,1005.8 L584.0,1006.7 L586.0,1007.5 L588.0,1008.3 L590.0,1009.1 L592.0,1009.9 L594.0,1010.8 L596.0,1011.6 L598.0,1012.4 L600.0,1013.2 L602.0,1014.0 L604.0,1014.8 L606.0,1015.7 L608.0,1016.5 L610.0,1017.3 L612.0,1018.1 L614.0,1018.9 L616.0,1019.7 L618.0,1020.6 L620.0,1021.4 L622.0,1022.2 L624.0,1023.0 L626.0,1023.8 L628.0,1024.7 L630.0,1025.5 L632.0,1026.3 L634.0,1027.2 L636.0,1028.0 L638.0,1028.8 L640.0,1029.7 L642.0,1030.5 L644.0,1031.4 L646.0,1032.2 L648.0,1033.1 L650.0,1033.9 L652.0,1034.8 L654.0,1035.6 L656.0,1036.5 L658.0,1037.3 L660.0,1038.2 L662.0,1039.0 L664.0,1039.9 L666.0,1040.7 L668.0,1041.6 L670.0,1042.4 L672.0,1043.2 L674.0,1044.0 L676.0,1044.9 L678.0,1045.7 L680.0,1046.5 L682.0,1047.3 L684.0,1048.1 L686.0,1048.9 L688.0,1049.7 L690.0,1050.5 L692.0,1051.2 L694.0,1052.0 L696.0,1052.8 L698.0,1053.5 L700.0,1054.3 L702.0,1055.1 L704.0,1055.8 L706.0,1056.6 L708.0,1057.3 L710.0,1058.1 L712.0,1058.9 L714.0,1059.6 L716.0,1060.4 L718.0,1061.2 L720.0,1062.0 L722.0,1062.8 L724.0,1063.6 L726.0,1064.4 L728.0,1065.2 L730.0,1066.0 L732.0,1066.8 L734.0,1067.7 L736.0,1068.5 L738.0,1069.4 L740.0,1070.2 L742.0,1071.1 L744.0,1072.0 L746.0,1072.9 L748.0,1073.8 L750.0,1074.7 L752.0,1075.6 L754.0,1076.4 L756.0,1077.3 L758.0,1078.2 L760.0,1079.1 L762.0,1080.0 L764.0,1080.9 L766.0,1081.8 L768.0,1082.7 L770.0,1083.6 L772.0,1084.5 L774.0,1085.4 L776.0,1086.3 L778.0,1087.1 L780.0,1088.0 L782.0,1088.9 L784.0,1089.7 L786.0,1090.6 L788.0,1091.5 L790.0,1092.3 L792.0,1093.2 L794.0,1094.1 L796.0,1094.9 L798.0,1095.8 L800.0,1096.7 L802.0,1097.5 L804.0,1098.4 L806.0,1099.3 L808.0,1100.1 L810.0,1101.0 L812.0,1101.8 L814.0,1102.6 L816.0,1103.5 L818.0,1104.3 L820.0,1105.1 L822.0,1105.9 L824.0,1106.7 L826.0,1107.5 L828.0,1108.2 L830.0,1109.0 L832.0,1109.7 L834.0,1110.5 L836.0,1111.2 L838.0,1111.9 L840.0,1112.6 L842.0,1113.3 L844.0,1114.0 L846.0,1114.7 L848.0,1115.4 L850.0,1116.0 L852.0,1116.7 L854.0,1117.4 L856.0,1118.0 L858.0,1118.7 L860.0,1119.3 L862.0,1120.0 L864.0,1120.6 L866.0,1121.3 L868.0,1122.0 L870.0,1122.6 L872.0,1123.3 L874.0,1124.0 L876.0,1124.6 L878.0,1125.3 L880.0,1126.0 L882.0,1126.7 L884.0,1127.4 L886.0,1128.1 L888.0,1128.8 L890.0,1129.6 L892.0,1130.3 L894.0,1131.0 L896.0,1131.7 L898.0,1132.3 L900.0,1133.0 L902.0,1133.6 L904.0,1134.3 L906.0,1134.9 L908.0,1135.6 L910.0,1136.2 L912.0,1136.8 L914.0,1137.4 L916.0,1138.0 L918.0,1138.6 L920.0,1139.2 L922.0,1139.8 L924.0,1140.3 L926.0,1140.9 L928.0,1141.5 L930.0,1142.0 L932.0,1142.5 L934.0,1143.0 L936.0,1143.6 L938.0,1144.0 L940.0,1144.5 L942.0,1145.0 L944.0,1145.5 L946.0,1146.0 L948.0,1146.5 L950.0,1147.0 L952.0,1147.5 L954.0,1148.1 L956.0,1148.6 L958.0,1149.2 L960.0,1149.7 L962.0,1150.3 L964.0,1150.9 L966.0,1151.4 L968.0,1152.0 L970.0,1152.5 L972.0,1153.1 L974.0,1153.6 L976.0,1154.1 L978.0,1154.5 L980.0,1155.0 L982.0,1155.4 L984.0,1155.9 L986.0,1156.3 L988.0,1156.7 L990.0,1157.1 L992.0,1157.5 L994.0,1157.9 L996.0,1158.3 L998.0,1158.7 L1000.0,1159.0 L1002.0,1159.4 L1004.0,1159.8 L1006.0,1160.1 L1008.0,1160.5 L1010.0,1160.8 L1012.0,1161.2 L1014.0,1161.5 L1016.0,1161.8 L1018.0,1162.2 L1020.0,1162.5 L1022.0,1162.8 L1024.0,1163.1 L1026.0,1163.4 L1028.0,1163.7 L1030.0,1164.0 L1032.0,1164.3 L1034.0,1164.6 L1036.0,1164.8 L1038.0,1165.1 L1040.0,1165.4 L1042.0,1165.6 L1044.0,1165.9 L1046.0,1166.1 L1048.0,1166.4 L1050.0,1166.6 L1052.0,1166.9 L1054.0,1167.1 L1056.0,1167.3 L1058.0,1167.6 L1060.0,1167.8 L1062.0,1168.0 L1064.0,1168.2 L1066.0,1168.5 L1068.0,1168.7 L1070.0,1168.9 L1072.0,1169.1 L1074.0,1169.3 L1076.0,1169.6 L1078.0,1169.8 L1080.0,1170.0 L1082.0,1170.2 L1084.0,1170.4 L1086.0,1170.6 L1088.0,1170.9 L1090.0,1171.1 L1092.0,1171.3 L1094.0,1171.5 L1096.0,1171.7 L1098.0,1171.9 L1100.0,1172.1 L1102.0,1172.3 L1104.0,1172.5 L1106.0,1172.7 L1108.0,1172.8 L1110.0,1173.0 L1112.0,1173.2 L1114.0,1173.4 L1116.0,1173.6 L1118.0,1173.8 L1120.0,1174.0 L1122.0,1174.2 L1124.0,1174.4 L1126.0,1174.6 L1128.0,1174.8 L1130.0,1175.0 L1132.0,1175.2 L1134.0,1175.4 L1136.0,1175.6 L1138.0,1175.8 L1140.0,1176.0 L1142.0,1176.3 L1144.0,1176.5 L1146.0,1176.7 L1148.0,1176.9 L1150.0,1177.1 L1152.0,1177.3 L1154.0,1177.5 L1156.0,1177.8 L1158.0,1178.0 L1160.0,1178.2 L1162.0,1178.4 L1164.0,1178.6 L1166.0,1178.8 L1168.0,1179.0 L1170.0,1179.2 L1172.0,1179.3 L1174.0,1179.5 L1176.0,1179.7 L1178.0,1179.8 L1180.0,1180.0 L1182.0,1180.1 L1184.0,1180.3 L1186.0,1180.4 L1188.0,1180.6 L1190.0,1180.7 L1192.0,1180.8 L1194.0,1180.9 L1196.0,1181.1 L1198.0,1181.2 L1200.0,1181.3 L1202.0,1181.4 L1204.0,1181.5 L1206.0,1181.6 L1208.0,1181.8 L1210.0,1181.9 L1212.0,1182.0 L1214.0,1182.1 L1216.0,1182.2 L1218.0,1182.3 L1220.0,1182.4 L1222.0,1182.5 L1224.0,1182.6 L1226.0,1182.8 L1228.0,1182.9 L1230.0,1183.0 L1232.0,1183.1 L1234.0,1183.2 L1236.0,1183.4 L1238.0,1183.5 L1240.0,1183.6 L1242.0,1183.7 L1244.0,1183.9 L1246.0,1184.0 L1248.0,1184.1 L1250.0,1184.2 L1252.0,1184.4 L1254.0,1184.5 L1256.0,1184.6 L1258.0,1184.7 L1260.0,1184.9 L1262.0,1185.0 L1264.0,1185.1 L1266.0,1185.2 L1268.0,1185.3 L1270.0,1185.4 L1272.0,1185.6 L1274.0,1185.7 L1276.0,1185.8 L1278.0,1185.9 L1280.0,1186.0 L1282.0,1186.1 L1284.0,1186.2 L1286.0,1186.3 L1288.0,1186.4 L1290.0,1186.5 L1292.0,1186.6 L1294.0,1186.7 L1296.0,1186.8 L1298.0,1186.8 L1300.0,1186.9 L1302.0,1187.0 L1304.0,1187.1 L1306.0,1187.2 L1308.0,1187.3 L1310.0,1187.4 L1312.0,1187.4 L1314.0,1187.5 L1316.0,1187.6 L1318.0,1187.7 L1320.0,1187.8 L1322.0,1187.9 L1324.0,1188.0 L1326.0,1188.1 L1328.0,1188.2 L1330.0,1188.3 L1332.0,1188.4 L1333.0,1188.5 L1334.0,1188.6 L1336.0,1188.7 L1338.0,1188.8 L1340.0,1188.9 L1342.0,1189.1 L1344.0,1189.2 L1346.0,1189.3 L1348.0,1189.5 L1350.0,1189.6 L1352.0,1189.8 L1354.0,1189.9 L1356.0,1190.1 L1358.0,1190.2 L1360.0,1190.4 L1362.0,1190.5 L1364.0,1190.7 L1366.0,1190.8 L1368.0,1191.0 L1370.0,1191.2 L1372.0,1191.3 L1374.0,1191.5 L1376.0,1191.7 L1378.0,1191.9 L1380.0,1192.0 L1382.0,1192.2 L1384.0,1192.4 L1386.0,1192.6 L1388.0,1192.8 L1390.0,1193.0 L1392.0,1193.1 L1394.0,1193.3 L1396.0,1193.5 L1398.0,1193.7 L1400.0,1193.9 L1402.0,1194.1 L1404.0,1194.3 L1406.0,1194.5 L1408.0,1194.7 L1410.0,1194.9 L1412.0,1195.1 L1414.0,1195.3 L1416.0,1195.5 L1418.0,1195.7 L1420.0,1195.9 L1422.0,1196.1 L1424.0,1196.3 L1426.0,1196.5 L1428.0,1196.7 L1430.0,1196.9 L1432.0,1197.1 L1434.0,1197.3 L1436.0,1197.5 L1438.0,1197.7 L1440.0,1197.9 L1442.0,1198.1 L1444.0,1198.4 L1446.0,1198.6 L1448.0,1198.8 L1450.0,1199.0 L1452.0,1199.2 L1454.0,1199.4 L1456.0,1199.6 L1458.0,1199.8 L1460.0,1200.0 L1462.0,1200.2 L1464.0,1200.4 L1466.0,1200.6 L1466.7,1200.7 L1468.0,1200.8 L1470.0,1201.0 L1472.0,1201.2 L1474.0,1201.5 L1476.0,1201.7 L1478.0,1201.9 L1480.0,1202.1 L1482.0,1202.3 L1484.0,1202.5 L1486.0,1202.7 L1488.0,1202.9 L1490.0,1203.1 L1492.0,1203.4 L1494.0,1203.6 L1496.0,1203.8 L1498.0,1204.0 L1500.0,1204.2 L1502.0,1204.4 L1504.0,1204.7 L1506.0,1204.9 L1508.0,1205.1 L1510.0,1205.3 L1512.0,1205.5 L1514.0,1205.8 L1516.0,1206.0 L1518.0,1206.2 L1520.0,1206.4 L1522.0,1206.7 L1524.0,1206.9 L1526.0,1207.1 L1528.0,1207.4 L1530.0,1207.6 L1532.0,1207.8 L1534.0,1208.0 L1536.0,1208.3 L1538.0,1208.5 L1540.0,1208.7 L1542.0,1209.0 L1544.0,1209.2 L1546.0,1209.5 L1548.0,1209.7 L1550.0,1209.9 L1552.0,1210.2 L1554.0,1210.4 L1556.0,1210.7 L1558.0,1210.9 L1560.0,1211.1 L1562.0,1211.4 L1564.0,1211.6 L1566.0,1211.9 L1568.0,1212.1 L1570.0,1212.4 L1572.0,1212.6 L1574.0,1212.9 L1576.0,1213.1 L1578.0,1213.4 L1580.0,1213.6 L1582.0,1213.9 L1584.0,1214.1 L1586.0,1214.4 L1588.0,1214.6 L1590.0,1214.9 L1592.0,1215.2 L1594.0,1215.4 L1596.0,1215.7 L1598.0,1215.9 L1600.0,1216.2 L1602.0,1216.5 L1604.0,1216.7 L1606.0,1217.0 L1608.0,1217.3 L1610.0,1217.5 L1612.0,1217.8 L1614.0,1218.1 L1616.0,1218.3 L1618.0,1218.6 L1620.0,1218.9 L1622.0,1219.1 L1624.0,1219.4 L1626.0,1219.7 L1628.0,1220.0 L1630.0,1220.2 L1632.0,1220.5 L1634.0,1220.8 L1636.0,1221.1 L1638.0,1221.4 L1640.0,1221.6 L1642.0,1221.9 L1644.0,1222.2 L1646.0,1222.5 L1648.0,1222.8 L1650.0,1223.1 L1652.0,1223.4 L1654.0,1223.7 L1656.0,1224.0 L1658.0,1224.3 L1660.0,1224.6 L1662.0,1224.9 L1664.0,1225.2 L1666.0,1225.5 L1668.0,1225.8 L1670.0,1226.1 L1672.0,1226.4 L1674.0,1226.7 L1676.0,1227.0 L1678.0,1227.4 L1680.0,1227.7 L1682.0,1228.0 L1684.0,1228.3 L1686.0,1228.6 L1688.0,1229.0 L1690.0,1229.3 L1692.0,1229.6 L1694.0,1230.0 L1696.0,1230.3 L1698.0,1230.7 L1700.0,1231.0 L1702.0,1231.3 L1704.0,1231.7 L1706.0,1232.1 L1708.0,1232.4 L1710.0,1232.8 L1712.0,1233.2 L1714.0,1233.5 L1716.0,1233.9 L1718.0,1234.3 L1720.0,1234.7 L1722.0,1235.1 L1724.0,1235.5 L1726.0,1235.8 L1728.0,1236.2 L1730.0,1236.7 L1732.0,1237.1 L1734.0,1237.5 L1736.0,1237.9 L1738.0,1238.3 L1740.0,1238.7 L1742.0,1239.1 L1744.0,1239.6 L1746.0,1240.0 L1748.0,1240.4 L1750.0,1240.8 L1752.0,1241.3 L1754.0,1241.7 L1756.0,1242.1 L1758.0,1242.6 L1760.0,1243.0 L1762.0,1243.4 L1764.0,1243.9 L1766.0,1244.3 L1768.0,1244.8 L1770.0,1245.2 L1772.0,1245.7 L1774.0,1246.2 L1776.0,1246.6 L1778.0,1247.1 L1780.0,1247.6 L1782.0,1248.1 L1784.0,1248.6 L1786.0,1249.1 L1788.0,1249.5 L1790.0,1250.0 L1792.0,1250.5 L1794.0,1251.0 L1796.0,1251.5 L1798.0,1252.0 L1800.0,1252.5 L1802.0,1253.0 L1804.0,1253.5 L1806.0,1254.0 L1808.0,1254.5 L1810.0,1255.0 L1812.0,1255.5 L1814.0,1256.0 L1816.0,1256.5 L1818.0,1257.0 L1820.0,1257.5 L1822.0,1258.0 L1824.0,1258.5 L1826.0,1259.0 L1828.0,1259.6 L1830.0,1260.1 L1832.0,1260.6 L1834.0,1261.1 L1836.0,1261.6 L1838.0,1262.2 L1840.0,1262.7 L1842.0,1263.2 L1844.0,1263.7 L1846.0,1264.3 L1848.0,1264.8 L1850.0,1265.3 L1852.0,1265.9 L1854.0,1266.4 L1856.0,1266.9 L1858.0,1267.5 L1860.0,1268.0 L1862.0,1268.5 L1864.0,1269.1 L1866.0,1269.6 L1868.0,1270.2 L1870.0,1270.7 L1872.0,1271.2 L1874.0,1271.8 L1876.0,1272.3 L1878.0,1272.9 L1880.0,1273.4 L1882.0,1274.0 L1884.0,1274.5 L1886.0,1275.1 L1888.0,1275.7 L1890.0,1276.2 L1892.0,1276.8 L1894.0,1277.3 L1896.0,1277.9 L1898.0,1278.5 L1900.0,1279.1 L1902.0,1279.6 L1904.0,1280.2 L1906.0,1280.8 L1908.0,1281.4 L1910.0,1282.0 L1912.0,1282.6 L1914.0,1283.2 L1916.0,1283.8 L1918.0,1284.4 L1920.0,1285.0 L1922.0,1285.7 L1924.0,1286.3 L1926.0,1286.9 L1928.0,1287.5 L1930.0,1288.2 L1932.0,1288.8 L1934.0,1289.4 L1936.0,1290.1 L1938.0,1290.7 L1940.0,1291.4 L1942.0,1292.0 L1944.0,1292.7 L1946.0,1293.3 L1948.0,1294.0 L1950.0,1294.6 L1952.0,1295.3 L1954.0,1296.0 L1956.0,1296.6 L1958.0,1297.3 L1960.0,1298.0 L1962.0,1298.7 L1964.0,1299.4 L1966.0,1300.1 L1968.0,1300.8 L1970.0,1301.4 L1972.0,1302.2 L1974.0,1302.9 L1976.0,1303.6 L1978.0,1304.3 L1980.0,1305.0 L1982.0,1305.7 L1984.0,1306.4 L1986.0,1307.2 L1988.0,1307.9 L1990.0,1308.6 L1992.0,1309.4 L1994.0,1310.1 L1996.0,1310.8 L1998.0,1311.6 L2000.0,1312.3 L2002.0,1313.0 L2004.0,1313.8 L2006.0,1314.5 L2008.0,1315.3 L2010.0,1316.0 L2012.0,1316.7 L2014.0,1317.5 L2016.0,1318.2 L2018.0,1319.0 L2020.0,1319.7 L2022.0,1320.5 L2024.0,1321.2 L2026.0,1322.0 L2028.0,1322.8 L2030.0,1323.5 L2032.0,1324.3 L2034.0,1325.1 L2036.0,1325.8 L2038.0,1326.6 L2040.0,1327.4 L2042.0,1328.1 L2044.0,1328.9 L2046.0,1329.7 L2048.0,1330.4 L2050.0,1331.2 L2052.0,1331.9 L2054.0,1332.7 L2056.0,1333.5 L2058.0,1334.2 L2060.0,1335.0 L2062.0,1335.8 L2064.0,1336.5 L2066.0,1337.3 L2068.0,1338.1 L2070.0,1338.8 L2072.0,1339.6 L2074.0,1340.4 L2076.0,1341.2 L2078.0,1341.9 L2080.0,1342.7 L2082.0,1343.5 L2084.0,1344.3 L2086.0,1345.0 L2088.0,1345.8 L2090.0,1346.6 L2092.0,1347.3 L2094.0,1348.1 L2096.0,1348.8 L2098.0,1349.6 L2100.0,1350.3 L2102.0,1351.1 L2104.0,1351.8 L2106.0,1352.6 L2108.0,1353.3 L2110.0,1354.0 L2112.0,1354.7 L2114.0,1355.4 L2116.0,1356.1 L2118.0,1356.8 L2120.0,1357.5 L2122.0,1358.2 L2124.0,1358.9 L2126.0,1359.6 L2128.0,1360.3 L2130.0,1361.0 L2132.0,1361.6 L2134.0,1362.3 L2136.0,1363.0 L2138.0,1363.7 L2140.0,1364.3 L2142.0,1365.0 L2144.0,1365.6 L2146.0,1366.3 L2147.0,1366.6" stroke="#008000" stroke-width="7.8"/>
</g>
<g id="axes" stroke="#000" fill="none">
<path d="M182.3,858.7 V20.3 H2231.8 V858.7" stroke-width="3.0"/>
<path d="M182.9,858.7 V1694.75 H2232.3 V858.7" stroke-width="4.4"/>
<line x1="168.5" y1="858.7" x2="2234.5" y2="858.7" stroke-width="4.7"/>
<path d="M266.9,858.7 V843.6 M395.0,858.7 V851.6 M523.2,858.7 V843.6 M651.3,858.7 V851.6 M779.5,858.7 V843.6 M907.6,858.7 V851.6 M1035.8,858.7 V843.6 M1163.9,858.7 V851.6 M1292.1,858.7 V843.6 M1420.2,858.7 V851.6 M1548.3,858.7 V843.6 M1676.5,858.7 V851.6 M1804.6,858.7 V843.6 M1932.8,858.7 V851.6 M2060.9,858.7 V843.6 M2189.1,858.7 V851.6" stroke-width="4.3" stroke-linecap="round"/>
<path d="M266.9,1694.75 V1715.8 M395.0,1694.75 V1707.0 M523.2,1694.75 V1715.8 M651.3,1694.75 V1707.0 M779.5,1694.75 V1715.8 M907.6,1694.75 V1707.0 M1035.8,1694.75 V1715.8 M1163.9,1694.75 V1707.0 M1292.1,1694.75 V1715.8 M1420.2,1694.75 V1707.0 M1548.3,1694.75 V1715.8 M1676.5,1694.75 V1707.0 M1804.6,1694.75 V1715.8 M1932.8,1694.75 V1707.0 M2060.9,1694.75 V1715.8 M2189.1,1694.75 V1707.0" stroke-width="4.5" stroke-linecap="round"/>
<path d="M182.9,939.7 H162.0 M182.9,1020.8 H171.0 M182.9,1101.9 H162.0 M182.9,1183.0 H171.0 M182.9,1264.1 H162.0 M182.9,1345.2 H171.0 M182.9,1426.2 H162.0 M182.9,1507.3 H171.0 M182.9,1588.4 H162.0 M182.9,1669.5 H171.0" stroke-width="4.5" stroke-linecap="round"/>
</g>
<g id="marks" stroke="#000" stroke-linecap="round">
<line x1="572" y1="187.7" x2="572" y2="208.1" stroke-width="7.8"/>
<line x1="1197.2" y1="184.7" x2="1197.2" y2="207.1" stroke-width="7.7"/>
<line x1="950.4" y1="1125" x2="950.4" y2="1175" stroke-width="8"/>
<line x1="1213.4" y1="1199" x2="1213.4" y2="1249" stroke-width="8"/>
<line x1="1118.9" y1="1553.7" x2="1120.4" y2="1593.1" stroke-width="8"/>
</g>
<g id="arrow" stroke="#000" fill="#000" stroke-linejoin="round" stroke-linecap="round"><line x1="252.1" y1="768.3" x2="252.1" y2="640" stroke-width="8"/><path d="M252,613.6 L254.3,621.5 L256.4,630 L259.9,641 L264.2,651.6 L252,646.6 L239.8,651.6 L244.1,641 L247.6,630 L249.7,621.5 Z" stroke-width="6.2"/></g>
<g id="labels">
<text transform="translate(1000.90,125.30) scale(1.0457,1)" font-size="39" stroke="#fdfdfd" stroke-width="0.3">142.9°C</text>
<text transform="translate(1176.40,128.10) scale(1.0457,1)" font-size="39" stroke="#fdfdfd" stroke-width="0.3">142.9°C</text>
<text transform="translate(1546.40,68.00) scale(1.0457,1)" font-size="39" stroke="#fdfdfd" stroke-width="0.3">178.9°C</text>
<text transform="translate(882.80,230.00) scale(1.0457,1)" font-size="39" stroke="#fdfdfd" stroke-width="0.3">108.9°C</text>
<text transform="translate(1010.50,480.00) scale(1.0457,1)" font-size="39" stroke="#fdfdfd" stroke-width="0.3">133.4°C</text>
<text transform="translate(1170.50,462.70) scale(1.0457,1)" font-size="39" stroke="#fdfdfd" stroke-width="0.3">141.8°C</text>
<text transform="translate(1343.50,564.50) scale(1.0457,1)" font-size="39" stroke="#fdfdfd" stroke-width="0.3">164.1°C</text>
<text transform="translate(1325.50,651.70) scale(1.0457,1)" font-size="39" stroke="#fdfdfd" stroke-width="0.3">162.4°C</text>
<text transform="translate(1510.10,716.60) scale(1.0457,1)" font-size="39" stroke="#fdfdfd" stroke-width="0.3">180.4°C</text>
<text transform="translate(2075.95,134.20) scale(0.9899,1)" font-size="59.5" stroke="#fdfdfd" stroke-width="0.5">MTX</text>
<text transform="translate(2083.45,344.70) scale(0.9633,1)" font-size="59.5" stroke="#fdfdfd" stroke-width="0.5"><tspan font-family="&quot;Liberation Serif&quot;, serif" font-size="0.95em">β</tspan>-CD</text>
<text transform="translate(1943.06,560.80) scale(0.9852,1)" font-size="59.5" stroke="#fdfdfd" stroke-width="0.5"><tspan font-family="&quot;Liberation Serif&quot;, serif" font-size="0.95em">β</tspan>-CD/MTX</text>
<text transform="translate(1699.70,769.70) scale(0.9816,1)" font-size="59.5" stroke="#fdfdfd" stroke-width="0.5">AuNPs + <tspan font-family="&quot;Liberation Serif&quot;, serif" font-size="0.95em">β</tspan>-CD/MTX</text>
<text transform="translate(199.00,814.90)" font-size="46.5">Endo</text>
<text transform="translate(803.75,1221.90) scale(0.9985,1)" font-size="44.3">110.1°C, 95.2%</text>
<text transform="translate(1098.75,1309.50) scale(0.9985,1)" font-size="44.3">140.6°C, 93.7%</text>
<text transform="translate(987.16,1626.20) scale(0.9949,1)" font-size="44.3">129.4°C, 87.2%</text>
<text transform="translate(88.23,952.50) scale(0.9852,1)" font-size="52.6">99</text>
<text transform="translate(88.23,1114.68) scale(0.9852,1)" font-size="52.6">96</text>
<text transform="translate(88.23,1276.86) scale(0.9852,1)" font-size="52.6">93</text>
<text transform="translate(88.23,1439.04) scale(0.9852,1)" font-size="52.6">90</text>
<text transform="translate(88.23,1601.22) scale(0.9852,1)" font-size="52.6">87</text>
<text transform="translate(237.28,1769.20) scale(0.9870,1)" font-size="52.6">30</text>
<text transform="translate(492.52,1769.20) scale(1.0057,1)" font-size="52.6">60</text>
<text transform="translate(749.86,1769.20) scale(0.9870,1)" font-size="52.6">90</text>
<text transform="translate(987.84,1769.20) scale(1.0225,1)" font-size="52.6">120</text>
<text transform="translate(1244.13,1769.20) scale(1.0225,1)" font-size="52.6">150</text>
<text transform="translate(1500.42,1769.20) scale(1.0225,1)" font-size="52.6">180</text>
<text transform="translate(1759.68,1769.20) scale(0.9880,1)" font-size="52.6">210</text>
<text transform="translate(2015.97,1769.20) scale(0.9880,1)" font-size="52.6">240</text>
<text transform="translate(980.34,1844.30) scale(1.0635,1)" font-size="55.5" stroke="#fdfdfd" stroke-width="0.2">Temperature (°C)</text>
<text transform="translate(128.20,637.79) rotate(-90) scale(0.9772,1)" font-size="59.5" stroke="#fdfdfd" stroke-width="0.9">Heat Flow (mW)</text>
<text transform="translate(65.00,1372.30) rotate(-90) scale(0.9906,1)" font-size="59" stroke="#fdfdfd" stroke-width="0.9">Weight (%)</text>
</g>
</svg>
</body>
</html>
